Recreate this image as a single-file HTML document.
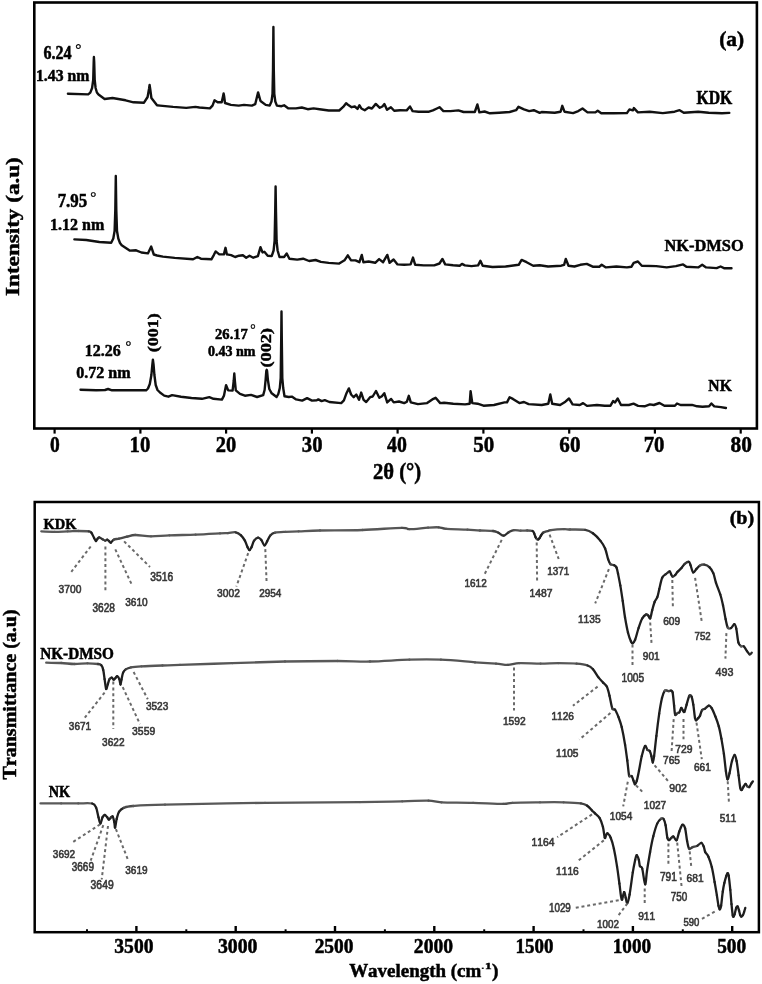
<!DOCTYPE html>
<html><head><meta charset="utf-8"><title>XRD and FTIR</title>
<style>
html,body{margin:0;padding:0;background:#fff;}
body{width:762px;height:984px;overflow:hidden;font-family:"Liberation Serif",serif;}
svg{display:block;filter:blur(0.35px);}
text{font-kerning:none;}
</style></head>
<body>
<svg width="762" height="984" viewBox="0 0 762 984">
<rect width="762" height="984" fill="#fff"/>
<rect x="34.3" y="2.5" width="722.6" height="426" fill="none" stroke="#000" stroke-width="2.6"/>
<rect x="34.7" y="502" width="724.2" height="430.2" fill="none" stroke="#000" stroke-width="2.5"/>
<line x1="54.6" y1="429" x2="54.6" y2="433.6" stroke="#000" stroke-width="2.2"/>
<line x1="140.4" y1="429" x2="140.4" y2="433.6" stroke="#000" stroke-width="2.2"/>
<line x1="226.1" y1="429" x2="226.1" y2="433.6" stroke="#000" stroke-width="2.2"/>
<line x1="311.9" y1="429" x2="311.9" y2="433.6" stroke="#000" stroke-width="2.2"/>
<line x1="397.6" y1="429" x2="397.6" y2="433.6" stroke="#000" stroke-width="2.2"/>
<line x1="483.4" y1="429" x2="483.4" y2="433.6" stroke="#000" stroke-width="2.2"/>
<line x1="569.2" y1="429" x2="569.2" y2="433.6" stroke="#000" stroke-width="2.2"/>
<line x1="654.9" y1="429" x2="654.9" y2="433.6" stroke="#000" stroke-width="2.2"/>
<line x1="740.7" y1="429" x2="740.7" y2="433.6" stroke="#000" stroke-width="2.2"/>
<line x1="136.4" y1="931" x2="136.4" y2="926" stroke="#000" stroke-width="2.4"/>
<line x1="235.7" y1="931" x2="235.7" y2="926" stroke="#000" stroke-width="2.4"/>
<line x1="335.0" y1="931" x2="335.0" y2="926" stroke="#000" stroke-width="2.4"/>
<line x1="434.3" y1="931" x2="434.3" y2="926" stroke="#000" stroke-width="2.4"/>
<line x1="533.6" y1="931" x2="533.6" y2="926" stroke="#000" stroke-width="2.4"/>
<line x1="632.9" y1="931" x2="632.9" y2="926" stroke="#000" stroke-width="2.4"/>
<line x1="732.2" y1="931" x2="732.2" y2="926" stroke="#000" stroke-width="2.4"/>
<line x1="87.0" y1="931" x2="87.0" y2="929.3" stroke="#000" stroke-width="2"/>
<line x1="186.3" y1="931" x2="186.3" y2="929.3" stroke="#000" stroke-width="2"/>
<line x1="285.6" y1="931" x2="285.6" y2="929.3" stroke="#000" stroke-width="2"/>
<line x1="384.9" y1="931" x2="384.9" y2="929.3" stroke="#000" stroke-width="2"/>
<line x1="484.2" y1="931" x2="484.2" y2="929.3" stroke="#000" stroke-width="2"/>
<line x1="583.5" y1="931" x2="583.5" y2="929.3" stroke="#000" stroke-width="2"/>
<line x1="682.8" y1="931" x2="682.8" y2="929.3" stroke="#000" stroke-width="2"/>
<polyline points="67.9,93.7 88.2,94.4 90.3,92.6 92.1,88.0 93.2,80.0 93.7,62.0 93.9,57.0 94.2,62.0 94.7,80.0 95.6,88.0 96.9,92.5 98.5,94.5 104.6,99.0 112.5,98.0 125.6,100.3 133.5,102.3 144.0,102.7 147.6,97.0 149.0,89.0 149.6,85.0 150.2,89.0 151.4,98.0 157.0,105.3 160.0,105.6 173.1,106.9 186.2,107.9 195.4,106.9 199.4,107.5 209.9,108.4 212.5,105.6 214.5,100.3 217.7,102.3 221.7,102.3 223.1,96.0 223.6,93.5 224.1,96.0 225.0,103.0 230.9,104.9 238.7,105.6 244.0,104.9 251.9,105.6 255.2,104.2 258.1,92.4 260.5,101.0 265.7,104.9 269.7,105.6 271.5,101.5 272.5,94.0 273.0,70.0 273.4,27.0 273.8,70.0 274.3,94.0 275.3,101.5 276.9,105.6 281.5,106.2 284.1,105.3 288.1,108.2 295.9,108.4 301.8,107.5 307.7,109.2 313.6,108.4 319.6,109.2 328.7,110.5 339.2,110.5 343.2,106.9 346.1,103.2 347.6,104.5 351.6,107.2 354.8,106.5 357.5,108.9 359.4,105.2 361.4,108.5 364.7,110.2 368.6,107.5 371.9,108.5 375.8,103.9 379.8,107.8 382.4,106.5 384.4,104.1 387.0,109.8 390.9,107.2 394.2,110.7 400.1,110.2 406.7,110.4 410.0,106.5 412.6,111.1 418.5,111.7 429.0,111.7 432.9,110.4 436.9,108.5 439.5,107.2 443.4,111.1 450.5,111.1 458.4,110.4 463.6,112.0 474.8,112.0 477.4,104.5 479.4,112.4 484.6,111.5 489.9,113.3 499.1,112.8 509.6,112.0 516.1,110.2 518.5,106.8 524.0,109.4 529.2,111.1 533.8,110.2 539.7,112.8 541.6,112.0 554.7,112.8 560.6,111.7 562.3,105.8 564.5,111.7 573.1,113.1 578.3,111.1 582.5,108.5 587.5,112.4 595.4,112.4 597.7,110.7 601.3,113.3 613.7,113.3 626.9,113.1 629.5,109.4 632.8,110.4 633.9,108.1 637.9,112.4 649.7,111.7 662.8,113.1 674.6,111.7 679.6,110.2 683.8,112.8 698.2,111.7 708.7,112.8 721.9,113.3 729.3,112.9" fill="none" stroke="#111" stroke-width="2.4" stroke-linejoin="round" stroke-linecap="round"/>
<polyline points="74.4,239.4 86.2,240.0 99.4,242.0 111.2,242.7 113.3,238.5 114.6,231.0 115.3,210.0 115.8,176.0 116.3,210.0 117.0,231.0 118.3,238.5 120.0,243.0 121.7,245.3 129.6,250.6 136.1,250.3 141.4,252.5 147.9,253.4 151.2,246.6 153.8,254.5 157.0,255.5 162.9,256.6 174.7,257.9 193.1,259.3 197.3,257.0 200.9,258.7 211.4,259.3 213.8,255.1 215.6,251.4 219.3,254.4 223.9,254.4 225.5,247.8 226.9,254.4 231.1,255.1 235.1,257.0 239.0,255.7 242.9,255.3 246.2,257.7 249.5,255.7 253.3,257.7 257.9,256.1 260.5,247.2 262.5,252.4 264.4,251.8 267.7,255.7 271.7,256.1 273.6,250.5 274.6,241.0 275.2,212.0 275.6,186.5 276.0,212.0 276.6,241.0 277.6,250.5 279.5,257.0 284.1,257.0 286.7,253.5 289.4,258.7 297.2,259.6 303.1,258.7 309.1,261.0 315.6,260.0 320.9,261.9 328.7,262.9 339.2,263.6 344.5,260.3 347.8,255.3 350.9,260.2 355.5,260.4 359.4,262.2 361.8,254.9 363.4,262.2 368.6,261.5 375.2,262.8 379.1,259.1 383.1,262.2 387.3,254.9 389.6,262.8 393.6,259.5 397.5,264.4 404.1,264.8 410.6,264.4 413.0,257.6 415.2,264.8 423.7,265.4 434.2,265.4 439.5,263.5 442.4,258.9 445.2,264.4 453.1,265.2 459.7,265.7 462.0,263.9 464.9,265.4 471.5,266.1 478.1,265.4 480.4,260.8 482.7,265.7 492.5,267.0 505.6,266.5 518.7,264.8 521.6,259.9 526.6,262.2 533.2,265.7 539.7,265.2 548.1,266.5 561.2,265.7 564.1,264.8 565.8,258.9 568.5,265.7 574.4,266.5 580.3,264.8 586.8,263.9 592.7,266.7 599.3,266.7 601.7,264.8 605.9,267.4 616.4,266.5 626.9,267.4 631.5,266.7 633.7,262.8 637.9,261.5 641.8,265.7 656.2,266.1 666.7,267.4 675.9,266.1 683.1,264.4 686.4,266.7 698.2,267.4 702.2,264.8 706.1,267.4 716.6,268.1 720.6,266.5 724.5,268.3 731.5,268.3" fill="none" stroke="#111" stroke-width="2.4" stroke-linejoin="round" stroke-linecap="round"/>
<polyline points="80.5,389.8 96.2,390.3 105.0,390.0 108.1,389.0 112.0,390.3 129.1,390.3 146.1,390.3 148.0,388.5 149.8,384.0 151.4,375.0 152.3,365.0 152.9,359.6 153.6,365.0 154.4,375.0 155.7,385.0 157.5,390.0 160.0,392.5 164.2,395.6 168.4,396.7 172.1,395.1 181.0,396.7 191.5,398.0 202.0,398.8 209.3,397.2 213.5,398.8 221.9,399.6 224.0,395.6 226.1,385.1 228.2,390.4 232.6,390.6 233.7,381.0 234.3,373.5 234.9,381.0 235.8,390.4 240.0,393.9 244.9,395.7 251.0,394.9 257.1,397.0 263.2,395.1 264.6,390.0 265.6,380.0 266.3,371.0 266.7,369.8 267.1,371.0 267.9,380.0 269.3,389.0 271.7,393.3 276.6,397.0 278.3,394.0 279.8,388.0 280.7,378.0 281.2,340.0 281.5,311.5 281.8,340.0 282.3,378.0 283.2,388.0 284.5,396.3 288.8,397.0 291.8,396.6 296.1,399.4 302.2,400.6 307.1,398.2 312.0,400.6 316.8,400.2 318.3,399.4 321.6,401.1 324.8,400.2 329.4,402.0 341.2,403.1 343.9,400.4 346.5,393.2 348.9,388.4 351.1,394.5 353.7,397.2 356.3,394.5 359.0,399.8 361.2,392.6 363.6,399.8 366.2,402.0 370.1,397.2 372.7,396.5 376.0,391.0 379.3,397.8 381.9,396.2 384.3,393.2 387.2,402.4 391.1,398.9 393.7,402.4 399.0,401.5 404.2,403.1 406.9,401.7 408.8,395.8 410.8,402.4 417.9,404.1 427.1,403.1 432.3,399.4 435.6,397.8 440.2,403.1 444.1,402.8 453.3,403.7 465.1,404.4 469.7,403.7 470.6,391.2 472.3,403.1 477.6,403.7 483.5,405.7 494.0,405.0 504.5,402.4 507.0,402.4 509.6,397.2 512.9,398.9 519.4,403.1 524.0,402.0 528.6,404.1 541.7,405.0 548.3,403.7 550.3,394.5 552.2,403.7 560.1,405.0 565.4,401.7 569.0,398.5 572.6,404.4 579.8,405.0 583.1,403.1 587.0,405.9 596.9,405.0 604.7,405.7 610.5,405.7 613.1,401.1 615.1,402.4 617.7,398.5 621.0,405.0 628.9,405.0 633.5,403.7 638.1,405.9 644.6,406.3 649.9,404.4 653.8,405.0 659.5,403.0 664.4,405.8 674.9,405.8 677.0,403.5 680.5,405.0 692.0,404.9 697.1,406.3 702.5,406.7 709.1,406.2 711.4,403.5 714.3,406.4 720.9,407.1 725.9,408.0" fill="none" stroke="#111" stroke-width="2.4" stroke-linejoin="round" stroke-linecap="round"/>
<path d="M41.3,531.4 C43.5,531.5 50.3,531.8 54.7,531.8" fill="none" stroke="#585858" stroke-width="2.3" stroke-linecap="round"/>
<path d="M54.7,531.8 C59.1,531.8 63.9,531.5 67.8,531.4" fill="none" stroke="#585858" stroke-width="2.3" stroke-linecap="round"/>
<path d="M67.8,531.4 C71.7,531.3 74.8,531.0 78.3,531.0" fill="none" stroke="#575757" stroke-width="2.3" stroke-linecap="round"/>
<path d="M78.3,531.0 C81.8,531.0 86.6,531.1 88.8,531.4" fill="none" stroke="#575757" stroke-width="2.3" stroke-linecap="round"/>
<path d="M88.8,531.4 C91.0,531.7 90.5,531.6 91.4,532.7" fill="none" stroke="#373737" stroke-width="2.3" stroke-linecap="round"/>
<path d="M91.4,532.7 C92.3,533.8 93.3,536.6 94.1,538.0" fill="none" stroke="#1e1e1e" stroke-width="2.3" stroke-linecap="round"/>
<path d="M94.1,538.0 C94.9,539.4 95.4,540.9 96.0,541.0" fill="none" stroke="#1e1e1e" stroke-width="2.3" stroke-linecap="round"/>
<path d="M96.0,541.0 C96.6,541.1 97.2,539.2 97.7,538.6" fill="none" stroke="#1e1e1e" stroke-width="2.3" stroke-linecap="round"/>
<path d="M97.7,538.6 C98.2,538.0 98.5,537.2 99.3,537.3" fill="none" stroke="#262626" stroke-width="2.3" stroke-linecap="round"/>
<path d="M99.3,537.3 C100.1,537.4 101.6,538.8 102.6,539.3" fill="none" stroke="#303030" stroke-width="2.3" stroke-linecap="round"/>
<path d="M102.6,539.3 C103.6,539.8 104.4,540.5 105.2,540.6" fill="none" stroke="#373737" stroke-width="2.3" stroke-linecap="round"/>
<path d="M105.2,540.6 C106.0,540.7 106.6,539.6 107.2,539.7" fill="none" stroke="#3a3a3a" stroke-width="2.3" stroke-linecap="round"/>
<path d="M107.2,539.7 C107.8,539.8 108.5,540.7 109.1,541.2" fill="none" stroke="#272727" stroke-width="2.3" stroke-linecap="round"/>
<path d="M109.1,541.2 C109.7,541.7 110.1,542.9 110.9,542.6" fill="none" stroke="#282828" stroke-width="2.3" stroke-linecap="round"/>
<path d="M110.9,542.6 C111.7,542.4 112.4,540.4 113.7,539.7" fill="none" stroke="#1e1e1e" stroke-width="2.3" stroke-linecap="round"/>
<path d="M113.7,539.7 C115.0,539.0 116.8,539.1 119.0,538.6" fill="none" stroke="#4a4a4a" stroke-width="2.3" stroke-linecap="round"/>
<path d="M119.0,538.6 C121.2,538.1 124.2,537.3 126.9,536.7" fill="none" stroke="#484848" stroke-width="2.3" stroke-linecap="round"/>
<path d="M126.9,536.7 C129.6,536.1 131.2,535.1 135.2,535.0" fill="none" stroke="#4b4b4b" stroke-width="2.3" stroke-linecap="round"/>
<path d="M135.2,535.0 C139.2,534.9 145.3,536.2 151.0,536.3" fill="none" stroke="#545454" stroke-width="2.3" stroke-linecap="round"/>
<path d="M151.0,536.3 C156.7,536.3 162.0,535.6 169.4,535.3" fill="none" stroke="#565656" stroke-width="2.3" stroke-linecap="round"/>
<path d="M169.4,535.3 C176.8,535.0 187.2,535.0 195.6,534.7" fill="none" stroke="#585858" stroke-width="2.3" stroke-linecap="round"/>
<path d="M195.6,534.7 C204.0,534.4 214.6,533.7 220.0,533.4" fill="none" stroke="#565656" stroke-width="2.3" stroke-linecap="round"/>
<path d="M220.0,533.4 C225.4,533.1 225.3,533.3 227.9,533.1" fill="none" stroke="#575757" stroke-width="2.3" stroke-linecap="round"/>
<path d="M227.9,533.1 C230.5,532.9 233.5,531.9 235.7,532.3" fill="none" stroke="#525252" stroke-width="2.3" stroke-linecap="round"/>
<path d="M235.7,532.3 C237.9,532.7 239.5,533.9 241.0,535.3" fill="none" stroke="#333333" stroke-width="2.3" stroke-linecap="round"/>
<path d="M241.0,535.3 C242.5,536.7 243.8,538.6 244.9,540.6" fill="none" stroke="#1e1e1e" stroke-width="2.3" stroke-linecap="round"/>
<path d="M244.9,540.6 C246.0,542.6 246.8,545.6 247.6,547.2" fill="none" stroke="#1e1e1e" stroke-width="2.3" stroke-linecap="round"/>
<path d="M247.6,547.2 C248.4,548.8 248.8,550.2 249.5,550.2" fill="none" stroke="#1e1e1e" stroke-width="2.3" stroke-linecap="round"/>
<path d="M249.5,550.2 C250.2,550.2 250.7,548.8 251.5,547.2" fill="none" stroke="#1e1e1e" stroke-width="2.3" stroke-linecap="round"/>
<path d="M251.5,547.2 C252.3,545.6 253.0,542.2 254.1,540.6" fill="none" stroke="#1e1e1e" stroke-width="2.3" stroke-linecap="round"/>
<path d="M254.1,540.6 C255.2,539.0 256.9,537.7 258.1,537.6" fill="none" stroke="#292929" stroke-width="2.3" stroke-linecap="round"/>
<path d="M258.1,537.6 C259.3,537.5 260.2,538.6 261.3,539.9" fill="none" stroke="#2a2a2a" stroke-width="2.3" stroke-linecap="round"/>
<path d="M261.3,539.9 C262.4,541.2 263.4,545.2 264.4,545.4" fill="none" stroke="#1e1e1e" stroke-width="2.3" stroke-linecap="round"/>
<path d="M264.4,545.4 C265.4,545.6 266.2,542.9 267.2,541.2" fill="none" stroke="#1e1e1e" stroke-width="2.3" stroke-linecap="round"/>
<path d="M267.2,541.2 C268.2,539.5 269.2,536.7 270.5,535.3" fill="none" stroke="#1e1e1e" stroke-width="2.3" stroke-linecap="round"/>
<path d="M270.5,535.3 C271.8,533.9 272.6,533.3 275.1,532.7" fill="none" stroke="#333333" stroke-width="2.3" stroke-linecap="round"/>
<path d="M275.1,532.7 C277.6,532.1 281.7,532.0 285.6,531.8" fill="none" stroke="#535353" stroke-width="2.3" stroke-linecap="round"/>
<path d="M285.6,531.8 C289.5,531.6 293.0,531.6 298.7,531.4" fill="none" stroke="#585858" stroke-width="2.3" stroke-linecap="round"/>
<path d="M298.7,531.4 C304.4,531.2 309.4,530.7 320.0,530.5" fill="none" stroke="#575757" stroke-width="2.3" stroke-linecap="round"/>
<path d="M320.0,530.5 C330.6,530.3 348.9,530.5 362.5,530.0" fill="none" stroke="#595959" stroke-width="2.3" stroke-linecap="round"/>
<path d="M362.5,530.0 C376.1,529.5 394.0,527.9 401.9,527.8" fill="none" stroke="#565656" stroke-width="2.3" stroke-linecap="round"/>
<path d="M401.9,527.8 C409.8,527.7 405.3,529.2 409.7,529.2" fill="none" stroke="#4c4c4c" stroke-width="2.3" stroke-linecap="round"/>
<path d="M409.7,529.2 C414.1,529.2 423.3,527.9 428.1,527.6" fill="none" stroke="#535353" stroke-width="2.3" stroke-linecap="round"/>
<path d="M428.1,527.6 C432.9,527.3 435.5,527.1 438.6,527.3" fill="none" stroke="#585858" stroke-width="2.3" stroke-linecap="round"/>
<path d="M438.6,527.3 C441.7,527.5 441.7,528.5 446.5,528.9" fill="none" stroke="#4b4b4b" stroke-width="2.3" stroke-linecap="round"/>
<path d="M446.5,528.9 C451.3,529.3 461.9,529.4 467.5,529.7" fill="none" stroke="#575757" stroke-width="2.3" stroke-linecap="round"/>
<path d="M467.5,529.7 C473.1,530.0 475.7,530.3 480.0,530.5" fill="none" stroke="#555555" stroke-width="2.3" stroke-linecap="round"/>
<path d="M480.0,530.5 C484.3,530.7 490.0,530.6 493.1,531.0" fill="none" stroke="#575757" stroke-width="2.3" stroke-linecap="round"/>
<path d="M493.1,531.0 C496.2,531.4 496.6,531.9 498.4,532.7" fill="none" stroke="#424242" stroke-width="2.3" stroke-linecap="round"/>
<path d="M498.4,532.7 C500.1,533.5 501.9,535.8 503.6,535.7" fill="none" stroke="#323232" stroke-width="2.3" stroke-linecap="round"/>
<path d="M503.6,535.7 C505.4,535.6 507.1,533.0 508.9,532.1" fill="none" stroke="#2c2c2c" stroke-width="2.3" stroke-linecap="round"/>
<path d="M508.9,532.1 C510.6,531.2 512.1,530.3 514.1,530.1" fill="none" stroke="#3e3e3e" stroke-width="2.3" stroke-linecap="round"/>
<path d="M514.1,530.1 C516.1,529.9 518.5,530.6 520.7,530.7" fill="none" stroke="#535353" stroke-width="2.3" stroke-linecap="round"/>
<path d="M520.7,530.7 C522.9,530.8 525.2,530.5 527.2,530.5" fill="none" stroke="#585858" stroke-width="2.3" stroke-linecap="round"/>
<path d="M527.2,530.5 C529.2,530.5 531.3,530.5 532.5,531.0" fill="none" stroke="#535353" stroke-width="2.3" stroke-linecap="round"/>
<path d="M532.5,531.0 C533.7,531.5 533.7,532.5 534.2,533.5" fill="none" stroke="#1e1e1e" stroke-width="2.3" stroke-linecap="round"/>
<path d="M534.2,533.5 C534.7,534.5 535.1,536.2 535.6,537.2" fill="none" stroke="#1e1e1e" stroke-width="2.3" stroke-linecap="round"/>
<path d="M535.6,537.2 C536.1,538.2 536.5,538.8 537.0,539.2" fill="none" stroke="#1e1e1e" stroke-width="2.3" stroke-linecap="round"/>
<path d="M537.0,539.2 C537.5,539.6 537.9,539.6 538.3,539.4" fill="none" stroke="#4e4e4e" stroke-width="2.3" stroke-linecap="round"/>
<path d="M538.3,539.4 C538.7,539.2 539.1,538.6 539.6,538.0" fill="none" stroke="#1e1e1e" stroke-width="2.3" stroke-linecap="round"/>
<path d="M539.6,538.0 C540.1,537.4 540.4,536.4 541.0,535.5" fill="none" stroke="#1e1e1e" stroke-width="2.3" stroke-linecap="round"/>
<path d="M541.0,535.5 C541.6,534.6 542.5,533.4 543.0,532.8" fill="none" stroke="#1e1e1e" stroke-width="2.3" stroke-linecap="round"/>
<path d="M543.0,532.8 C543.5,532.2 543.4,532.4 544.3,532.1" fill="none" stroke="#343434" stroke-width="2.3" stroke-linecap="round"/>
<path d="M544.3,532.1 C545.2,531.8 547.1,531.3 548.2,531.0" fill="none" stroke="#454545" stroke-width="2.3" stroke-linecap="round"/>
<path d="M548.2,531.0 C549.3,530.7 548.3,530.4 550.9,530.1" fill="none" stroke="#414141" stroke-width="2.3" stroke-linecap="round"/>
<path d="M550.9,530.1 C553.5,529.8 560.8,529.3 564.0,529.2" fill="none" stroke="#555555" stroke-width="2.3" stroke-linecap="round"/>
<path d="M564.0,529.2 C567.2,529.1 566.5,529.4 570.0,529.5" fill="none" stroke="#565656" stroke-width="2.3" stroke-linecap="round"/>
<path d="M570.0,529.5 C573.5,529.6 581.4,529.3 585.2,529.9" fill="none" stroke="#585858" stroke-width="2.3" stroke-linecap="round"/>
<path d="M585.2,529.9 C589.0,530.5 590.4,531.5 592.9,533.3" fill="none" stroke="#3a3a3a" stroke-width="2.3" stroke-linecap="round"/>
<path d="M592.9,533.3 C595.4,535.1 598.5,538.4 600.5,540.9" fill="none" stroke="#1e1e1e" stroke-width="2.3" stroke-linecap="round"/>
<path d="M600.5,540.9 C602.5,543.4 603.8,545.5 605.1,548.5" fill="none" stroke="#1e1e1e" stroke-width="2.3" stroke-linecap="round"/>
<path d="M605.1,548.5 C606.4,551.5 607.2,556.6 608.1,559.2" fill="none" stroke="#1e1e1e" stroke-width="2.3" stroke-linecap="round"/>
<path d="M608.1,559.2 C609.0,561.8 609.4,563.1 610.4,564.1" fill="none" stroke="#1e1e1e" stroke-width="2.3" stroke-linecap="round"/>
<path d="M610.4,564.1 C611.4,565.1 613.2,564.7 614.2,565.3" fill="none" stroke="#434343" stroke-width="2.3" stroke-linecap="round"/>
<path d="M614.2,565.3 C615.2,565.9 615.9,566.1 616.5,567.5" fill="none" stroke="#202020" stroke-width="2.3" stroke-linecap="round"/>
<path d="M616.5,567.5 C617.1,568.9 617.4,570.6 618.0,573.6" fill="none" stroke="#1e1e1e" stroke-width="2.3" stroke-linecap="round"/>
<path d="M618.0,573.6 C618.6,576.6 619.5,580.9 620.3,585.4" fill="none" stroke="#1e1e1e" stroke-width="2.3" stroke-linecap="round"/>
<path d="M620.3,585.4 C621.1,589.9 621.9,595.5 622.7,600.8" fill="none" stroke="#1e1e1e" stroke-width="2.3" stroke-linecap="round"/>
<path d="M622.7,600.8 C623.5,606.1 624.1,612.0 625.0,617.3" fill="none" stroke="#1e1e1e" stroke-width="2.3" stroke-linecap="round"/>
<path d="M625.0,617.3 C625.9,622.6 627.0,628.7 628.0,632.7" fill="none" stroke="#1e1e1e" stroke-width="2.3" stroke-linecap="round"/>
<path d="M628.0,632.7 C629.0,636.7 630.2,639.7 631.0,641.5" fill="none" stroke="#1e1e1e" stroke-width="2.3" stroke-linecap="round"/>
<path d="M631.0,641.5 C631.8,643.3 632.0,643.6 632.7,643.3" fill="none" stroke="#1e1e1e" stroke-width="2.3" stroke-linecap="round"/>
<path d="M632.7,643.3 C633.4,643.0 634.1,642.3 635.1,639.8" fill="none" stroke="#1e1e1e" stroke-width="2.3" stroke-linecap="round"/>
<path d="M635.1,639.8 C636.1,637.2 637.4,631.5 638.6,628.0" fill="none" stroke="#1e1e1e" stroke-width="2.3" stroke-linecap="round"/>
<path d="M638.6,628.0 C639.8,624.5 640.9,620.8 642.2,618.5" fill="none" stroke="#1e1e1e" stroke-width="2.3" stroke-linecap="round"/>
<path d="M642.2,618.5 C643.5,616.2 645.3,614.9 646.3,614.4" fill="none" stroke="#1e1e1e" stroke-width="2.3" stroke-linecap="round"/>
<path d="M646.3,614.4 C647.3,613.9 647.6,615.0 648.3,615.6" fill="none" stroke="#313131" stroke-width="2.3" stroke-linecap="round"/>
<path d="M648.3,615.6 C648.9,616.2 649.6,619.2 650.2,618.3" fill="none" stroke="#1e1e1e" stroke-width="2.3" stroke-linecap="round"/>
<path d="M650.2,618.3 C650.9,617.4 651.5,612.9 652.2,610.2" fill="none" stroke="#1e1e1e" stroke-width="2.3" stroke-linecap="round"/>
<path d="M652.2,610.2 C652.9,607.5 653.8,604.2 654.6,602.0" fill="none" stroke="#1e1e1e" stroke-width="2.3" stroke-linecap="round"/>
<path d="M654.6,602.0 C655.5,599.8 656.5,599.4 657.3,597.2" fill="none" stroke="#1e1e1e" stroke-width="2.3" stroke-linecap="round"/>
<path d="M657.3,597.2 C658.1,595.0 658.5,592.2 659.3,589.0" fill="none" stroke="#1e1e1e" stroke-width="2.3" stroke-linecap="round"/>
<path d="M659.3,589.0 C660.1,585.8 661.1,580.3 662.2,577.8" fill="none" stroke="#1e1e1e" stroke-width="2.3" stroke-linecap="round"/>
<path d="M662.2,577.8 C663.3,575.3 664.6,575.2 665.8,574.2" fill="none" stroke="#1e1e1e" stroke-width="2.3" stroke-linecap="round"/>
<path d="M665.8,574.2 C667.0,573.2 668.7,571.5 669.6,571.5" fill="none" stroke="#2b2b2b" stroke-width="2.3" stroke-linecap="round"/>
<path d="M669.6,571.5 C670.5,571.5 670.6,573.4 671.1,574.2" fill="none" stroke="#1e1e1e" stroke-width="2.3" stroke-linecap="round"/>
<path d="M671.1,574.2 C671.6,575.1 671.9,576.5 672.6,576.6" fill="none" stroke="#1e1e1e" stroke-width="2.3" stroke-linecap="round"/>
<path d="M672.6,576.6 C673.3,576.7 674.4,575.8 675.2,575.0" fill="none" stroke="#303030" stroke-width="2.3" stroke-linecap="round"/>
<path d="M675.2,575.0 C676.0,574.2 676.5,573.0 677.6,571.8" fill="none" stroke="#1e1e1e" stroke-width="2.3" stroke-linecap="round"/>
<path d="M677.6,571.8 C678.7,570.6 680.5,569.0 681.7,567.7" fill="none" stroke="#1e1e1e" stroke-width="2.3" stroke-linecap="round"/>
<path d="M681.7,567.7 C682.9,566.4 683.5,564.9 684.7,563.9" fill="none" stroke="#1e1e1e" stroke-width="2.3" stroke-linecap="round"/>
<path d="M684.7,563.9 C685.9,562.9 687.8,561.5 688.8,561.8" fill="none" stroke="#363636" stroke-width="2.3" stroke-linecap="round"/>
<path d="M688.8,561.8 C689.8,562.0 689.9,563.6 690.6,565.4" fill="none" stroke="#1e1e1e" stroke-width="2.3" stroke-linecap="round"/>
<path d="M690.6,565.4 C691.3,567.2 692.2,571.8 693.2,572.4" fill="none" stroke="#1e1e1e" stroke-width="2.3" stroke-linecap="round"/>
<path d="M693.2,572.4 C694.2,573.0 695.4,570.1 696.5,568.9" fill="none" stroke="#1e1e1e" stroke-width="2.3" stroke-linecap="round"/>
<path d="M696.5,568.9 C697.6,567.7 698.7,566.1 700.0,565.4" fill="none" stroke="#1e1e1e" stroke-width="2.3" stroke-linecap="round"/>
<path d="M700.0,565.4 C701.3,564.7 702.7,564.3 704.3,564.6" fill="none" stroke="#4c4c4c" stroke-width="2.3" stroke-linecap="round"/>
<path d="M704.3,564.6 C705.9,564.9 708.1,565.9 709.6,567.3" fill="none" stroke="#363636" stroke-width="2.3" stroke-linecap="round"/>
<path d="M709.6,567.3 C711.1,568.7 712.2,570.5 713.3,573.1" fill="none" stroke="#1e1e1e" stroke-width="2.3" stroke-linecap="round"/>
<path d="M713.3,573.1 C714.4,575.7 714.8,579.2 716.0,582.8" fill="none" stroke="#1e1e1e" stroke-width="2.3" stroke-linecap="round"/>
<path d="M716.0,582.8 C717.2,586.4 719.1,590.8 720.3,594.5" fill="none" stroke="#1e1e1e" stroke-width="2.3" stroke-linecap="round"/>
<path d="M720.3,594.5 C721.5,598.2 722.1,601.1 723.0,605.2" fill="none" stroke="#1e1e1e" stroke-width="2.3" stroke-linecap="round"/>
<path d="M723.0,605.2 C723.9,609.3 724.8,615.4 725.6,619.1" fill="none" stroke="#1e1e1e" stroke-width="2.3" stroke-linecap="round"/>
<path d="M725.6,619.1 C726.4,622.8 726.9,626.1 727.8,627.6" fill="none" stroke="#1e1e1e" stroke-width="2.3" stroke-linecap="round"/>
<path d="M727.8,627.6 C728.7,629.1 729.9,628.7 731.0,628.1" fill="none" stroke="#4e4e4e" stroke-width="2.3" stroke-linecap="round"/>
<path d="M731.0,628.1 C732.1,627.5 733.5,624.1 734.4,624.2" fill="none" stroke="#1e1e1e" stroke-width="2.3" stroke-linecap="round"/>
<path d="M734.4,624.2 C735.3,624.3 735.6,625.7 736.3,628.7" fill="none" stroke="#1e1e1e" stroke-width="2.3" stroke-linecap="round"/>
<path d="M736.3,628.7 C737.0,631.8 737.6,639.6 738.4,642.5" fill="none" stroke="#1e1e1e" stroke-width="2.3" stroke-linecap="round"/>
<path d="M738.4,642.5 C739.2,645.4 740.2,645.7 741.1,646.3" fill="none" stroke="#1e1e1e" stroke-width="2.3" stroke-linecap="round"/>
<path d="M741.1,646.3 C742.0,646.9 742.8,645.5 743.8,646.3" fill="none" stroke="#5a5a5a" stroke-width="2.3" stroke-linecap="round"/>
<path d="M743.8,646.3 C744.8,647.1 746.0,649.8 747.0,651.1" fill="none" stroke="#1e1e1e" stroke-width="2.3" stroke-linecap="round"/>
<path d="M747.0,651.1 C748.0,652.4 748.8,654.0 749.6,654.3" fill="none" stroke="#1e1e1e" stroke-width="2.3" stroke-linecap="round"/>
<path d="M749.6,654.3 C750.4,654.6 751.4,653.0 751.8,652.7" fill="none" stroke="#2a2a2a" stroke-width="2.3" stroke-linecap="round"/>
<path d="M46.2,662.7 C48.7,662.8 56.5,662.8 61.2,663.0" fill="none" stroke="#585858" stroke-width="2.3" stroke-linecap="round"/>
<path d="M61.2,663.0 C65.9,663.2 70.0,664.0 74.4,664.0" fill="none" stroke="#545454" stroke-width="2.3" stroke-linecap="round"/>
<path d="M74.4,664.0 C78.8,664.0 83.6,663.3 87.5,663.3" fill="none" stroke="#565656" stroke-width="2.3" stroke-linecap="round"/>
<path d="M87.5,663.3 C91.4,663.3 95.7,663.7 98.0,664.0" fill="none" stroke="#555555" stroke-width="2.3" stroke-linecap="round"/>
<path d="M98.0,664.0 C100.3,664.3 100.4,664.3 101.3,665.3" fill="none" stroke="#3d3d3d" stroke-width="2.3" stroke-linecap="round"/>
<path d="M101.3,665.3 C102.2,666.3 102.7,667.6 103.2,669.9" fill="none" stroke="#1e1e1e" stroke-width="2.3" stroke-linecap="round"/>
<path d="M103.2,669.9 C103.8,672.2 104.1,675.9 104.6,679.1" fill="none" stroke="#1e1e1e" stroke-width="2.3" stroke-linecap="round"/>
<path d="M104.6,679.1 C105.1,682.3 105.6,688.0 106.1,688.9" fill="none" stroke="#1e1e1e" stroke-width="2.3" stroke-linecap="round"/>
<path d="M106.1,688.9 C106.6,689.8 107.2,685.9 107.8,684.3" fill="none" stroke="#1e1e1e" stroke-width="2.3" stroke-linecap="round"/>
<path d="M107.8,684.3 C108.4,682.7 108.8,680.2 109.5,679.1" fill="none" stroke="#1e1e1e" stroke-width="2.3" stroke-linecap="round"/>
<path d="M109.5,679.1 C110.2,678.0 111.1,677.6 111.8,677.7" fill="none" stroke="#303030" stroke-width="2.3" stroke-linecap="round"/>
<path d="M111.8,677.7 C112.5,677.8 113.0,679.7 113.7,679.7" fill="none" stroke="#1e1e1e" stroke-width="2.3" stroke-linecap="round"/>
<path d="M113.7,679.7 C114.4,679.7 115.1,678.3 115.7,677.7" fill="none" stroke="#1e1e1e" stroke-width="2.3" stroke-linecap="round"/>
<path d="M115.7,677.7 C116.3,677.1 116.7,675.9 117.3,676.2" fill="none" stroke="#202020" stroke-width="2.3" stroke-linecap="round"/>
<path d="M117.3,676.2 C117.9,676.5 118.9,678.0 119.4,679.4" fill="none" stroke="#1e1e1e" stroke-width="2.3" stroke-linecap="round"/>
<path d="M119.4,679.4 C119.9,680.8 120.2,684.6 120.5,684.6" fill="none" stroke="#1e1e1e" stroke-width="2.3" stroke-linecap="round"/>
<path d="M120.5,684.6 C120.8,684.6 121.1,681.4 121.5,679.4" fill="none" stroke="#1e1e1e" stroke-width="2.3" stroke-linecap="round"/>
<path d="M121.5,679.4 C121.9,677.4 122.4,674.3 123.1,672.6" fill="none" stroke="#1e1e1e" stroke-width="2.3" stroke-linecap="round"/>
<path d="M123.1,672.6 C123.8,670.9 124.4,670.3 125.7,669.4" fill="none" stroke="#1e1e1e" stroke-width="2.3" stroke-linecap="round"/>
<path d="M125.7,669.4 C127.0,668.5 128.4,667.8 131.0,667.3" fill="none" stroke="#3d3d3d" stroke-width="2.3" stroke-linecap="round"/>
<path d="M131.0,667.3 C133.6,666.8 136.2,666.6 141.5,666.3" fill="none" stroke="#535353" stroke-width="2.3" stroke-linecap="round"/>
<path d="M141.5,666.3 C146.8,666.0 156.1,665.7 162.5,665.5" fill="none" stroke="#575757" stroke-width="2.3" stroke-linecap="round"/>
<path d="M162.5,665.5 C168.9,665.3 168.3,665.3 180.0,664.9" fill="none" stroke="#575757" stroke-width="2.3" stroke-linecap="round"/>
<path d="M180.0,664.9 C191.7,664.5 215.0,663.7 232.5,663.1" fill="none" stroke="#575757" stroke-width="2.3" stroke-linecap="round"/>
<path d="M232.5,663.1 C250.0,662.5 267.5,661.9 285.0,661.5" fill="none" stroke="#585858" stroke-width="2.3" stroke-linecap="round"/>
<path d="M285.0,661.5 C302.5,661.1 323.3,661.0 337.5,661.0" fill="none" stroke="#595959" stroke-width="2.3" stroke-linecap="round"/>
<path d="M337.5,661.0 C351.7,661.0 358.0,661.7 370.0,661.5" fill="none" stroke="#595959" stroke-width="2.3" stroke-linecap="round"/>
<path d="M370.0,661.5 C382.0,661.3 397.6,660.0 409.4,659.7" fill="none" stroke="#575757" stroke-width="2.3" stroke-linecap="round"/>
<path d="M409.4,659.7 C421.2,659.4 430.0,659.3 440.9,659.7" fill="none" stroke="#5a5a5a" stroke-width="2.3" stroke-linecap="round"/>
<path d="M440.9,659.7 C451.8,660.1 465.8,661.6 475.0,662.3" fill="none" stroke="#545454" stroke-width="2.3" stroke-linecap="round"/>
<path d="M475.0,662.3 C484.2,662.9 490.5,663.2 496.0,663.6" fill="none" stroke="#555555" stroke-width="2.3" stroke-linecap="round"/>
<path d="M496.0,663.6 C501.5,664.0 503.9,665.0 507.8,664.9" fill="none" stroke="#525252" stroke-width="2.3" stroke-linecap="round"/>
<path d="M507.8,664.9 C511.7,664.8 514.1,663.3 519.6,663.1" fill="none" stroke="#4e4e4e" stroke-width="2.3" stroke-linecap="round"/>
<path d="M519.6,663.1 C525.1,662.9 534.2,663.6 540.6,663.6" fill="none" stroke="#585858" stroke-width="2.3" stroke-linecap="round"/>
<path d="M540.6,663.6 C547.0,663.6 552.3,663.2 558.3,663.2" fill="none" stroke="#585858" stroke-width="2.3" stroke-linecap="round"/>
<path d="M558.3,663.2 C564.3,663.2 571.7,663.3 576.6,663.7" fill="none" stroke="#585858" stroke-width="2.3" stroke-linecap="round"/>
<path d="M576.6,663.7 C581.5,664.1 584.9,664.6 587.6,665.5" fill="none" stroke="#4e4e4e" stroke-width="2.3" stroke-linecap="round"/>
<path d="M587.6,665.5 C590.3,666.4 591.2,667.2 593.0,669.2" fill="none" stroke="#2c2c2c" stroke-width="2.3" stroke-linecap="round"/>
<path d="M593.0,669.2 C594.8,671.2 596.8,675.2 598.5,677.4" fill="none" stroke="#1e1e1e" stroke-width="2.3" stroke-linecap="round"/>
<path d="M598.5,677.4 C600.2,679.6 601.7,681.1 603.1,682.6" fill="none" stroke="#1e1e1e" stroke-width="2.3" stroke-linecap="round"/>
<path d="M603.1,682.6 C604.5,684.1 605.7,684.4 606.8,686.6" fill="none" stroke="#1e1e1e" stroke-width="2.3" stroke-linecap="round"/>
<path d="M606.8,686.6 C607.9,688.8 608.6,692.1 609.5,695.7" fill="none" stroke="#1e1e1e" stroke-width="2.3" stroke-linecap="round"/>
<path d="M609.5,695.7 C610.4,699.4 611.4,706.2 612.3,708.5" fill="none" stroke="#1e1e1e" stroke-width="2.3" stroke-linecap="round"/>
<path d="M612.3,708.5 C613.2,710.8 614.0,708.2 615.0,709.6" fill="none" stroke="#3c3c3c" stroke-width="2.3" stroke-linecap="round"/>
<path d="M615.0,709.6 C616.0,711.0 617.3,714.0 618.4,716.9" fill="none" stroke="#1e1e1e" stroke-width="2.3" stroke-linecap="round"/>
<path d="M618.4,716.9 C619.5,719.8 620.6,722.3 621.7,727.0" fill="none" stroke="#1e1e1e" stroke-width="2.3" stroke-linecap="round"/>
<path d="M621.7,727.0 C622.8,731.7 624.2,739.3 625.1,744.9" fill="none" stroke="#1e1e1e" stroke-width="2.3" stroke-linecap="round"/>
<path d="M625.1,744.9 C626.0,750.5 626.6,755.5 627.3,760.5" fill="none" stroke="#1e1e1e" stroke-width="2.3" stroke-linecap="round"/>
<path d="M627.3,760.5 C627.9,765.5 628.5,772.5 629.0,775.1" fill="none" stroke="#1e1e1e" stroke-width="2.3" stroke-linecap="round"/>
<path d="M629.0,775.1 C629.5,777.7 629.6,775.8 630.1,776.0" fill="none" stroke="#262626" stroke-width="2.3" stroke-linecap="round"/>
<path d="M630.1,776.0 C630.6,776.2 631.2,775.4 631.8,776.2" fill="none" stroke="#515151" stroke-width="2.3" stroke-linecap="round"/>
<path d="M631.8,776.2 C632.4,777.0 633.0,779.4 633.5,780.7" fill="none" stroke="#1e1e1e" stroke-width="2.3" stroke-linecap="round"/>
<path d="M633.5,780.7 C634.0,782.1 634.4,784.3 634.9,784.3" fill="none" stroke="#1e1e1e" stroke-width="2.3" stroke-linecap="round"/>
<path d="M634.9,784.3 C635.4,784.3 636.1,783.0 636.8,780.7" fill="none" stroke="#1e1e1e" stroke-width="2.3" stroke-linecap="round"/>
<path d="M636.8,780.7 C637.5,778.4 638.2,774.7 639.0,770.6" fill="none" stroke="#1e1e1e" stroke-width="2.3" stroke-linecap="round"/>
<path d="M639.0,770.6 C639.8,766.5 640.8,760.2 641.8,756.1" fill="none" stroke="#1e1e1e" stroke-width="2.3" stroke-linecap="round"/>
<path d="M641.8,756.1 C642.8,752.0 644.1,747.0 645.0,746.0" fill="none" stroke="#1e1e1e" stroke-width="2.3" stroke-linecap="round"/>
<path d="M645.0,746.0 C645.9,745.0 646.6,749.1 647.4,749.9" fill="none" stroke="#1e1e1e" stroke-width="2.3" stroke-linecap="round"/>
<path d="M647.4,749.9 C648.2,750.7 649.0,750.0 649.7,751.0" fill="none" stroke="#383838" stroke-width="2.3" stroke-linecap="round"/>
<path d="M649.7,751.0 C650.4,752.0 650.9,754.2 651.4,756.1" fill="none" stroke="#1e1e1e" stroke-width="2.3" stroke-linecap="round"/>
<path d="M651.4,756.1 C651.9,758.0 652.3,762.6 652.8,762.6" fill="none" stroke="#1e1e1e" stroke-width="2.3" stroke-linecap="round"/>
<path d="M652.8,762.6 C653.2,762.6 653.5,760.6 654.1,756.1" fill="none" stroke="#1e1e1e" stroke-width="2.3" stroke-linecap="round"/>
<path d="M654.1,756.1 C654.7,751.6 655.5,743.0 656.4,735.9" fill="none" stroke="#1e1e1e" stroke-width="2.3" stroke-linecap="round"/>
<path d="M656.4,735.9 C657.2,728.8 658.3,719.9 659.2,713.6" fill="none" stroke="#1e1e1e" stroke-width="2.3" stroke-linecap="round"/>
<path d="M659.2,713.6 C660.1,707.3 661.1,701.7 662.0,697.9" fill="none" stroke="#1e1e1e" stroke-width="2.3" stroke-linecap="round"/>
<path d="M662.0,697.9 C662.9,694.1 664.0,691.8 664.8,690.6" fill="none" stroke="#1e1e1e" stroke-width="2.3" stroke-linecap="round"/>
<path d="M664.8,690.6 C665.6,689.4 666.4,690.5 667.0,690.6" fill="none" stroke="#5a5a5a" stroke-width="2.3" stroke-linecap="round"/>
<path d="M667.0,690.6 C667.6,690.7 668.1,691.2 668.7,691.2" fill="none" stroke="#404040" stroke-width="2.3" stroke-linecap="round"/>
<path d="M668.7,691.2 C669.4,691.2 670.2,690.4 670.9,690.6" fill="none" stroke="#464646" stroke-width="2.3" stroke-linecap="round"/>
<path d="M670.9,690.6 C671.5,690.8 672.1,689.8 672.6,692.3" fill="none" stroke="#1e1e1e" stroke-width="2.3" stroke-linecap="round"/>
<path d="M672.6,692.3 C673.1,694.8 673.7,702.0 674.1,705.7" fill="none" stroke="#1e1e1e" stroke-width="2.3" stroke-linecap="round"/>
<path d="M674.1,705.7 C674.5,709.4 674.6,713.5 675.2,714.7" fill="none" stroke="#1e1e1e" stroke-width="2.3" stroke-linecap="round"/>
<path d="M675.2,714.7 C675.8,715.9 676.9,713.4 677.6,713.0" fill="none" stroke="#2b2b2b" stroke-width="2.3" stroke-linecap="round"/>
<path d="M677.6,713.0 C678.3,712.6 678.7,713.2 679.3,712.4" fill="none" stroke="#404040" stroke-width="2.3" stroke-linecap="round"/>
<path d="M679.3,712.4 C679.9,711.6 680.6,708.4 681.2,708.0" fill="none" stroke="#1e1e1e" stroke-width="2.3" stroke-linecap="round"/>
<path d="M681.2,708.0 C681.8,707.6 682.2,709.6 682.7,710.2" fill="none" stroke="#1e1e1e" stroke-width="2.3" stroke-linecap="round"/>
<path d="M682.7,710.2 C683.2,710.9 683.8,712.8 684.4,711.9" fill="none" stroke="#1e1e1e" stroke-width="2.3" stroke-linecap="round"/>
<path d="M684.4,711.9 C685.0,711.0 685.8,707.3 686.6,704.6" fill="none" stroke="#1e1e1e" stroke-width="2.3" stroke-linecap="round"/>
<path d="M686.6,704.6 C687.4,701.9 688.6,697.0 689.4,695.7" fill="none" stroke="#1e1e1e" stroke-width="2.3" stroke-linecap="round"/>
<path d="M689.4,695.7 C690.2,694.4 691.0,695.3 691.6,696.8" fill="none" stroke="#373737" stroke-width="2.3" stroke-linecap="round"/>
<path d="M691.6,696.8 C692.2,698.3 692.7,701.1 693.3,704.6" fill="none" stroke="#1e1e1e" stroke-width="2.3" stroke-linecap="round"/>
<path d="M693.3,704.6 C693.9,708.1 694.5,715.4 695.0,718.0" fill="none" stroke="#1e1e1e" stroke-width="2.3" stroke-linecap="round"/>
<path d="M695.0,718.0 C695.5,720.6 695.6,720.3 696.1,720.3" fill="none" stroke="#1e1e1e" stroke-width="2.3" stroke-linecap="round"/>
<path d="M696.1,720.3 C696.6,720.3 697.6,718.8 698.3,718.0" fill="none" stroke="#1e1e1e" stroke-width="2.3" stroke-linecap="round"/>
<path d="M698.3,718.0 C698.9,717.2 699.4,717.1 700.0,715.8" fill="none" stroke="#1e1e1e" stroke-width="2.3" stroke-linecap="round"/>
<path d="M700.0,715.8 C700.6,714.5 701.1,711.4 702.0,710.2" fill="none" stroke="#1e1e1e" stroke-width="2.3" stroke-linecap="round"/>
<path d="M702.0,710.2 C702.9,709.0 704.0,709.4 705.1,708.6" fill="none" stroke="#363636" stroke-width="2.3" stroke-linecap="round"/>
<path d="M705.1,708.6 C706.2,707.8 707.8,705.7 708.9,705.6" fill="none" stroke="#272727" stroke-width="2.3" stroke-linecap="round"/>
<path d="M708.9,705.6 C710.0,705.5 710.6,706.3 711.7,708.1" fill="none" stroke="#222222" stroke-width="2.3" stroke-linecap="round"/>
<path d="M711.7,708.1 C712.8,709.9 714.1,713.2 715.3,716.3" fill="none" stroke="#1e1e1e" stroke-width="2.3" stroke-linecap="round"/>
<path d="M715.3,716.3 C716.5,719.3 717.8,722.7 718.8,726.4" fill="none" stroke="#1e1e1e" stroke-width="2.3" stroke-linecap="round"/>
<path d="M718.8,726.4 C719.8,730.1 720.5,734.0 721.4,738.6" fill="none" stroke="#1e1e1e" stroke-width="2.3" stroke-linecap="round"/>
<path d="M721.4,738.6 C722.2,743.2 723.1,748.5 723.9,753.9" fill="none" stroke="#1e1e1e" stroke-width="2.3" stroke-linecap="round"/>
<path d="M723.9,753.9 C724.6,759.3 725.3,767.0 725.9,771.2" fill="none" stroke="#1e1e1e" stroke-width="2.3" stroke-linecap="round"/>
<path d="M725.9,771.2 C726.5,775.4 726.9,779.0 727.5,779.3" fill="none" stroke="#1e1e1e" stroke-width="2.3" stroke-linecap="round"/>
<path d="M727.5,779.3 C728.1,779.6 728.8,776.2 729.5,773.2" fill="none" stroke="#1e1e1e" stroke-width="2.3" stroke-linecap="round"/>
<path d="M729.5,773.2 C730.2,770.2 731.1,764.0 732.0,761.0" fill="none" stroke="#1e1e1e" stroke-width="2.3" stroke-linecap="round"/>
<path d="M732.0,761.0 C732.9,758.0 733.8,754.9 734.6,754.9" fill="none" stroke="#1e1e1e" stroke-width="2.3" stroke-linecap="round"/>
<path d="M734.6,754.9 C735.4,754.9 735.9,757.6 736.6,761.0" fill="none" stroke="#1e1e1e" stroke-width="2.3" stroke-linecap="round"/>
<path d="M736.6,761.0 C737.3,764.4 738.0,770.9 738.6,775.3" fill="none" stroke="#1e1e1e" stroke-width="2.3" stroke-linecap="round"/>
<path d="M738.6,775.3 C739.2,779.7 739.7,785.0 740.2,787.5" fill="none" stroke="#1e1e1e" stroke-width="2.3" stroke-linecap="round"/>
<path d="M740.2,787.5 C740.7,790.0 741.1,790.2 741.7,790.0" fill="none" stroke="#1e1e1e" stroke-width="2.3" stroke-linecap="round"/>
<path d="M741.7,790.0 C742.3,789.8 743.1,787.4 743.7,786.4" fill="none" stroke="#1e1e1e" stroke-width="2.3" stroke-linecap="round"/>
<path d="M743.7,786.4 C744.4,785.4 745.0,783.9 745.6,783.9" fill="none" stroke="#1e1e1e" stroke-width="2.3" stroke-linecap="round"/>
<path d="M745.6,783.9 C746.2,783.9 746.7,785.9 747.3,786.4" fill="none" stroke="#1e1e1e" stroke-width="2.3" stroke-linecap="round"/>
<path d="M747.3,786.4 C747.9,786.9 748.6,787.5 749.3,787.0" fill="none" stroke="#444444" stroke-width="2.3" stroke-linecap="round"/>
<path d="M749.3,787.0 C750.0,786.5 750.8,784.3 751.4,783.4" fill="none" stroke="#1e1e1e" stroke-width="2.3" stroke-linecap="round"/>
<path d="M751.4,783.4 C752.0,782.5 752.6,781.7 752.9,781.4" fill="none" stroke="#1e1e1e" stroke-width="2.3" stroke-linecap="round"/>
<path d="M40.5,803.4 C44.0,803.4 54.9,803.4 61.2,803.4" fill="none" stroke="#5a5a5a" stroke-width="2.3" stroke-linecap="round"/>
<path d="M61.2,803.4 C67.5,803.4 73.1,803.4 78.3,803.4" fill="none" stroke="#5a5a5a" stroke-width="2.3" stroke-linecap="round"/>
<path d="M78.3,803.4 C83.5,803.4 89.2,802.8 92.2,803.5" fill="none" stroke="#595959" stroke-width="2.3" stroke-linecap="round"/>
<path d="M92.2,803.5 C95.2,804.2 95.2,805.6 96.2,807.9" fill="none" stroke="#1e1e1e" stroke-width="2.3" stroke-linecap="round"/>
<path d="M96.2,807.9 C97.2,810.2 97.8,814.7 98.5,817.3" fill="none" stroke="#1e1e1e" stroke-width="2.3" stroke-linecap="round"/>
<path d="M98.5,817.3 C99.2,819.9 99.7,823.6 100.4,823.6" fill="none" stroke="#1e1e1e" stroke-width="2.3" stroke-linecap="round"/>
<path d="M100.4,823.6 C101.1,823.6 101.8,818.7 102.5,817.3" fill="none" stroke="#1e1e1e" stroke-width="2.3" stroke-linecap="round"/>
<path d="M102.5,817.3 C103.2,815.9 104.0,815.0 104.8,815.0" fill="none" stroke="#1e1e1e" stroke-width="2.3" stroke-linecap="round"/>
<path d="M104.8,815.0 C105.6,815.0 106.5,816.5 107.2,817.3" fill="none" stroke="#202020" stroke-width="2.3" stroke-linecap="round"/>
<path d="M107.2,817.3 C107.9,818.1 108.2,819.7 108.8,819.7" fill="none" stroke="#1e1e1e" stroke-width="2.3" stroke-linecap="round"/>
<path d="M108.8,819.7 C109.4,819.7 110.4,817.8 111.1,817.3" fill="none" stroke="#1e1e1e" stroke-width="2.3" stroke-linecap="round"/>
<path d="M111.1,817.3 C111.8,816.8 112.2,815.7 112.7,816.5" fill="none" stroke="#373737" stroke-width="2.3" stroke-linecap="round"/>
<path d="M112.7,816.5 C113.2,817.3 113.9,820.1 114.3,822.0" fill="none" stroke="#1e1e1e" stroke-width="2.3" stroke-linecap="round"/>
<path d="M114.3,822.0 C114.7,823.9 114.7,828.1 115.1,827.6" fill="none" stroke="#1e1e1e" stroke-width="2.3" stroke-linecap="round"/>
<path d="M115.1,827.6 C115.5,827.1 116.0,821.5 116.7,818.9" fill="none" stroke="#1e1e1e" stroke-width="2.3" stroke-linecap="round"/>
<path d="M116.7,818.9 C117.4,816.3 117.8,813.6 119.0,811.8" fill="none" stroke="#1e1e1e" stroke-width="2.3" stroke-linecap="round"/>
<path d="M119.0,811.8 C120.2,810.0 121.3,808.9 123.7,807.9" fill="none" stroke="#252525" stroke-width="2.3" stroke-linecap="round"/>
<path d="M123.7,807.9 C126.1,806.9 126.3,806.5 133.2,806.0" fill="none" stroke="#4b4b4b" stroke-width="2.3" stroke-linecap="round"/>
<path d="M133.2,806.0 C140.1,805.5 143.0,805.2 165.0,804.7" fill="none" stroke="#575757" stroke-width="2.3" stroke-linecap="round"/>
<path d="M165.0,804.7 C187.0,804.2 232.5,803.2 265.0,802.8" fill="none" stroke="#595959" stroke-width="2.3" stroke-linecap="round"/>
<path d="M265.0,802.8 C297.5,802.4 337.1,802.4 360.0,802.1" fill="none" stroke="#595959" stroke-width="2.3" stroke-linecap="round"/>
<path d="M360.0,802.1 C382.9,801.9 390.8,801.5 402.2,801.3" fill="none" stroke="#595959" stroke-width="2.3" stroke-linecap="round"/>
<path d="M402.2,801.3 C413.6,801.1 421.9,800.5 428.5,800.7" fill="none" stroke="#585858" stroke-width="2.3" stroke-linecap="round"/>
<path d="M428.5,800.7 C435.1,800.9 434.2,801.9 441.6,802.3" fill="none" stroke="#515151" stroke-width="2.3" stroke-linecap="round"/>
<path d="M441.6,802.3 C449.0,802.6 462.8,802.5 473.1,802.8" fill="none" stroke="#595959" stroke-width="2.3" stroke-linecap="round"/>
<path d="M473.1,802.8 C483.4,803.1 496.7,803.9 503.3,803.9" fill="none" stroke="#575757" stroke-width="2.3" stroke-linecap="round"/>
<path d="M503.3,803.9 C509.9,803.9 506.4,803.1 512.5,802.8" fill="none" stroke="#515151" stroke-width="2.3" stroke-linecap="round"/>
<path d="M512.5,802.8 C518.6,802.5 531.5,802.4 540.0,802.3" fill="none" stroke="#595959" stroke-width="2.3" stroke-linecap="round"/>
<path d="M540.0,802.3 C548.5,802.2 556.8,802.1 563.6,802.3" fill="none" stroke="#5a5a5a" stroke-width="2.3" stroke-linecap="round"/>
<path d="M563.6,802.3 C570.4,802.5 577.0,802.8 580.9,803.4" fill="none" stroke="#555555" stroke-width="2.3" stroke-linecap="round"/>
<path d="M580.9,803.4 C584.8,804.0 585.4,804.5 587.2,805.7" fill="none" stroke="#3f3f3f" stroke-width="2.3" stroke-linecap="round"/>
<path d="M587.2,805.7 C589.1,806.9 590.7,809.2 592.0,810.5" fill="none" stroke="#1e1e1e" stroke-width="2.3" stroke-linecap="round"/>
<path d="M592.0,810.5 C593.3,811.8 593.7,812.1 595.0,813.4" fill="none" stroke="#1f1f1f" stroke-width="2.3" stroke-linecap="round"/>
<path d="M595.0,813.4 C596.3,814.7 598.4,815.9 599.7,818.1" fill="none" stroke="#1e1e1e" stroke-width="2.3" stroke-linecap="round"/>
<path d="M599.7,818.1 C601.0,820.3 602.0,823.5 602.9,826.8" fill="none" stroke="#1e1e1e" stroke-width="2.3" stroke-linecap="round"/>
<path d="M602.9,826.8 C603.8,830.1 604.2,836.5 604.8,837.8" fill="none" stroke="#1e1e1e" stroke-width="2.3" stroke-linecap="round"/>
<path d="M604.8,837.8 C605.4,839.1 605.8,835.3 606.3,834.6" fill="none" stroke="#1e1e1e" stroke-width="2.3" stroke-linecap="round"/>
<path d="M606.3,834.6 C606.8,833.9 606.9,832.9 607.6,833.4" fill="none" stroke="#212121" stroke-width="2.3" stroke-linecap="round"/>
<path d="M607.6,833.4 C608.3,833.9 609.7,835.2 610.7,837.8" fill="none" stroke="#1e1e1e" stroke-width="2.3" stroke-linecap="round"/>
<path d="M610.7,837.8 C611.8,840.4 612.9,844.1 613.9,848.8" fill="none" stroke="#1e1e1e" stroke-width="2.3" stroke-linecap="round"/>
<path d="M613.9,848.8 C614.9,853.5 616.1,860.3 617.0,866.1" fill="none" stroke="#1e1e1e" stroke-width="2.3" stroke-linecap="round"/>
<path d="M617.0,866.1 C617.9,871.9 618.7,878.5 619.4,883.5" fill="none" stroke="#1e1e1e" stroke-width="2.3" stroke-linecap="round"/>
<path d="M619.4,883.5 C620.1,888.5 620.5,893.4 621.0,896.1" fill="none" stroke="#1e1e1e" stroke-width="2.3" stroke-linecap="round"/>
<path d="M621.0,896.1 C621.5,898.8 621.6,900.2 622.1,899.5" fill="none" stroke="#1e1e1e" stroke-width="2.3" stroke-linecap="round"/>
<path d="M622.1,899.5 C622.6,898.8 623.5,892.4 624.1,892.1" fill="none" stroke="#1e1e1e" stroke-width="2.3" stroke-linecap="round"/>
<path d="M624.1,892.1 C624.7,891.8 625.2,895.8 625.7,897.6" fill="none" stroke="#1e1e1e" stroke-width="2.3" stroke-linecap="round"/>
<path d="M625.7,897.6 C626.2,899.4 626.6,903.6 627.3,903.1" fill="none" stroke="#1e1e1e" stroke-width="2.3" stroke-linecap="round"/>
<path d="M627.3,903.1 C627.9,902.6 628.7,899.6 629.6,894.5" fill="none" stroke="#1e1e1e" stroke-width="2.3" stroke-linecap="round"/>
<path d="M629.6,894.5 C630.5,889.4 631.9,878.2 632.8,872.4" fill="none" stroke="#1e1e1e" stroke-width="2.3" stroke-linecap="round"/>
<path d="M632.8,872.4 C633.7,866.6 634.6,862.7 635.2,859.8" fill="none" stroke="#1e1e1e" stroke-width="2.3" stroke-linecap="round"/>
<path d="M635.2,859.8 C635.9,856.9 636.1,855.1 636.7,855.1" fill="none" stroke="#1e1e1e" stroke-width="2.3" stroke-linecap="round"/>
<path d="M636.7,855.1 C637.3,855.1 638.3,858.0 638.8,859.8" fill="none" stroke="#1e1e1e" stroke-width="2.3" stroke-linecap="round"/>
<path d="M638.8,859.8 C639.3,861.6 639.3,864.6 639.9,866.1" fill="none" stroke="#1e1e1e" stroke-width="2.3" stroke-linecap="round"/>
<path d="M639.9,866.1 C640.5,867.6 641.3,865.5 642.2,868.5" fill="none" stroke="#1e1e1e" stroke-width="2.3" stroke-linecap="round"/>
<path d="M642.2,868.5 C643.1,871.5 644.3,883.9 645.1,884.3" fill="none" stroke="#1e1e1e" stroke-width="2.3" stroke-linecap="round"/>
<path d="M645.1,884.3 C645.9,884.7 646.2,876.3 647.0,870.9" fill="none" stroke="#1e1e1e" stroke-width="2.3" stroke-linecap="round"/>
<path d="M647.0,870.9 C647.8,865.5 649.1,857.8 650.1,852.0" fill="none" stroke="#1e1e1e" stroke-width="2.3" stroke-linecap="round"/>
<path d="M650.1,852.0 C651.1,846.2 652.1,840.9 653.3,836.2" fill="none" stroke="#1e1e1e" stroke-width="2.3" stroke-linecap="round"/>
<path d="M653.3,836.2 C654.5,831.5 655.9,826.5 657.2,823.6" fill="none" stroke="#1e1e1e" stroke-width="2.3" stroke-linecap="round"/>
<path d="M657.2,823.6 C658.5,820.7 660.1,819.4 661.1,818.6" fill="none" stroke="#1e1e1e" stroke-width="2.3" stroke-linecap="round"/>
<path d="M661.1,818.6 C662.1,817.8 662.8,817.8 663.5,818.9" fill="none" stroke="#505050" stroke-width="2.3" stroke-linecap="round"/>
<path d="M663.5,818.9 C664.2,820.0 665.0,822.1 665.6,825.2" fill="none" stroke="#1e1e1e" stroke-width="2.3" stroke-linecap="round"/>
<path d="M665.6,825.2 C666.2,828.4 666.8,835.3 667.4,837.8" fill="none" stroke="#1e1e1e" stroke-width="2.3" stroke-linecap="round"/>
<path d="M667.4,837.8 C668.0,840.3 668.3,840.2 669.0,840.2" fill="none" stroke="#1e1e1e" stroke-width="2.3" stroke-linecap="round"/>
<path d="M669.0,840.2 C669.7,840.2 670.7,838.4 671.4,837.8" fill="none" stroke="#1e1e1e" stroke-width="2.3" stroke-linecap="round"/>
<path d="M671.4,837.8 C672.1,837.2 672.5,836.1 673.4,836.5" fill="none" stroke="#2e2e2e" stroke-width="2.3" stroke-linecap="round"/>
<path d="M673.4,836.5 C674.3,836.9 675.6,841.0 676.6,840.2" fill="none" stroke="#1e1e1e" stroke-width="2.3" stroke-linecap="round"/>
<path d="M676.6,840.2 C677.6,839.4 678.3,834.0 679.3,831.5" fill="none" stroke="#1e1e1e" stroke-width="2.3" stroke-linecap="round"/>
<path d="M679.3,831.5 C680.3,829.0 681.4,825.4 682.4,824.9" fill="none" stroke="#1e1e1e" stroke-width="2.3" stroke-linecap="round"/>
<path d="M682.4,824.9 C683.4,824.4 684.3,825.6 685.1,828.3" fill="none" stroke="#1e1e1e" stroke-width="2.3" stroke-linecap="round"/>
<path d="M685.1,828.3 C685.9,831.0 686.4,837.5 687.1,840.9" fill="none" stroke="#1e1e1e" stroke-width="2.3" stroke-linecap="round"/>
<path d="M687.1,840.9 C687.8,844.3 688.3,847.8 689.2,848.8" fill="none" stroke="#1e1e1e" stroke-width="2.3" stroke-linecap="round"/>
<path d="M689.2,848.8 C690.1,849.8 691.2,847.7 692.6,847.2" fill="none" stroke="#383838" stroke-width="2.3" stroke-linecap="round"/>
<path d="M692.6,847.2 C694.0,846.7 696.0,846.4 697.4,845.7" fill="none" stroke="#434343" stroke-width="2.3" stroke-linecap="round"/>
<path d="M697.4,845.7 C698.8,845.0 700.2,842.7 701.3,842.8" fill="none" stroke="#292929" stroke-width="2.3" stroke-linecap="round"/>
<path d="M701.3,842.8 C702.3,842.9 703.1,845.0 703.7,846.5" fill="none" stroke="#1e1e1e" stroke-width="2.3" stroke-linecap="round"/>
<path d="M703.7,846.5 C704.4,848.0 704.4,850.3 705.2,852.0" fill="none" stroke="#1e1e1e" stroke-width="2.3" stroke-linecap="round"/>
<path d="M705.2,852.0 C706.0,853.7 707.3,854.2 708.4,856.7" fill="none" stroke="#1e1e1e" stroke-width="2.3" stroke-linecap="round"/>
<path d="M708.4,856.7 C709.5,859.2 710.8,862.9 711.8,867.1" fill="none" stroke="#1e1e1e" stroke-width="2.3" stroke-linecap="round"/>
<path d="M711.8,867.1 C712.8,871.3 713.8,877.3 714.6,882.0" fill="none" stroke="#1e1e1e" stroke-width="2.3" stroke-linecap="round"/>
<path d="M714.6,882.0 C715.5,886.7 716.2,891.4 716.9,895.4" fill="none" stroke="#1e1e1e" stroke-width="2.3" stroke-linecap="round"/>
<path d="M716.9,895.4 C717.5,899.4 718.0,903.4 718.5,905.7" fill="none" stroke="#1e1e1e" stroke-width="2.3" stroke-linecap="round"/>
<path d="M718.5,905.7 C719.0,908.0 719.3,909.4 719.7,909.4" fill="none" stroke="#1e1e1e" stroke-width="2.3" stroke-linecap="round"/>
<path d="M719.7,909.4 C720.1,909.4 720.6,908.7 721.1,905.7" fill="none" stroke="#1e1e1e" stroke-width="2.3" stroke-linecap="round"/>
<path d="M721.1,905.7 C721.6,902.7 722.2,895.3 722.8,891.5" fill="none" stroke="#1e1e1e" stroke-width="2.3" stroke-linecap="round"/>
<path d="M722.8,891.5 C723.3,887.7 723.8,885.4 724.4,882.8" fill="none" stroke="#1e1e1e" stroke-width="2.3" stroke-linecap="round"/>
<path d="M724.4,882.8 C725.0,880.2 725.9,877.3 726.4,875.7" fill="none" stroke="#1e1e1e" stroke-width="2.3" stroke-linecap="round"/>
<path d="M726.4,875.7 C726.9,874.1 727.2,873.2 727.6,873.2" fill="none" stroke="#1e1e1e" stroke-width="2.3" stroke-linecap="round"/>
<path d="M727.6,873.2 C728.0,873.2 728.2,872.9 728.7,875.7" fill="none" stroke="#1e1e1e" stroke-width="2.3" stroke-linecap="round"/>
<path d="M728.7,875.7 C729.2,878.5 729.8,885.2 730.3,889.9" fill="none" stroke="#1e1e1e" stroke-width="2.3" stroke-linecap="round"/>
<path d="M730.3,889.9 C730.8,894.6 731.1,899.9 731.5,904.1" fill="none" stroke="#1e1e1e" stroke-width="2.3" stroke-linecap="round"/>
<path d="M731.5,904.1 C731.9,908.3 732.4,913.0 732.7,915.1" fill="none" stroke="#1e1e1e" stroke-width="2.3" stroke-linecap="round"/>
<path d="M732.7,915.1 C733.0,917.2 733.2,916.8 733.5,916.7" fill="none" stroke="#1e1e1e" stroke-width="2.3" stroke-linecap="round"/>
<path d="M733.5,916.7 C733.8,916.6 734.1,915.8 734.6,914.3" fill="none" stroke="#1e1e1e" stroke-width="2.3" stroke-linecap="round"/>
<path d="M734.6,914.3 C735.1,912.8 735.7,909.3 736.2,908.0" fill="none" stroke="#1e1e1e" stroke-width="2.3" stroke-linecap="round"/>
<path d="M736.2,908.0 C736.7,906.7 737.1,906.1 737.6,906.5" fill="none" stroke="#1e1e1e" stroke-width="2.3" stroke-linecap="round"/>
<path d="M737.6,906.5 C738.1,906.9 738.6,909.0 739.0,910.4" fill="none" stroke="#1e1e1e" stroke-width="2.3" stroke-linecap="round"/>
<path d="M739.0,910.4 C739.4,911.8 739.8,914.0 740.2,915.1" fill="none" stroke="#1e1e1e" stroke-width="2.3" stroke-linecap="round"/>
<path d="M740.2,915.1 C740.6,916.2 740.8,916.7 741.3,916.7" fill="none" stroke="#1e1e1e" stroke-width="2.3" stroke-linecap="round"/>
<path d="M741.3,916.7 C741.8,916.7 742.4,915.9 742.9,915.1" fill="none" stroke="#1e1e1e" stroke-width="2.3" stroke-linecap="round"/>
<path d="M742.9,915.1 C743.4,914.3 743.7,913.2 744.1,912.0" fill="none" stroke="#1e1e1e" stroke-width="2.3" stroke-linecap="round"/>
<path d="M744.1,912.0 C744.5,910.8 745.1,908.6 745.3,907.9" fill="none" stroke="#1e1e1e" stroke-width="2.3" stroke-linecap="round"/>
<line x1="90.7" y1="546.5" x2="71.3" y2="571.8" stroke="#6a6a6a" stroke-width="2.0" stroke-dasharray="3 2.8"/>
<line x1="105.4" y1="546.6" x2="105.4" y2="592.8" stroke="#6a6a6a" stroke-width="2.0" stroke-dasharray="3 2.8"/>
<line x1="115.3" y1="549.4" x2="131.9" y2="584.9" stroke="#6a6a6a" stroke-width="2.0" stroke-dasharray="3 2.8"/>
<line x1="124.1" y1="541.4" x2="150" y2="567" stroke="#6a6a6a" stroke-width="2.0" stroke-dasharray="3 2.8"/>
<line x1="248.2" y1="553.1" x2="236.4" y2="586.5" stroke="#6a6a6a" stroke-width="2.0" stroke-dasharray="3 2.8"/>
<line x1="265.3" y1="549.1" x2="266.6" y2="582.6" stroke="#6a6a6a" stroke-width="2.0" stroke-dasharray="3 2.8"/>
<line x1="501.7" y1="539.9" x2="483.9" y2="575.6" stroke="#6a6a6a" stroke-width="2.0" stroke-dasharray="3 2.8"/>
<line x1="536.7" y1="542.6" x2="537.1" y2="580.6" stroke="#6a6a6a" stroke-width="2.0" stroke-dasharray="3 2.8"/>
<line x1="549.6" y1="534.7" x2="558.7" y2="559" stroke="#6a6a6a" stroke-width="2.0" stroke-dasharray="3 2.8"/>
<line x1="608.9" y1="569.1" x2="595.2" y2="603.4" stroke="#6a6a6a" stroke-width="2.0" stroke-dasharray="3 2.8"/>
<line x1="632.5" y1="644.6" x2="632.5" y2="666.7" stroke="#6a6a6a" stroke-width="2.0" stroke-dasharray="3 2.8"/>
<line x1="650.2" y1="622.5" x2="651.6" y2="644.5" stroke="#6a6a6a" stroke-width="2.0" stroke-dasharray="3 2.8"/>
<line x1="672.3" y1="580.1" x2="672.9" y2="607.9" stroke="#6a6a6a" stroke-width="2.0" stroke-dasharray="3 2.8"/>
<line x1="695.1" y1="577.8" x2="701.8" y2="622" stroke="#6a6a6a" stroke-width="2.0" stroke-dasharray="3 2.8"/>
<line x1="726.4" y1="633.1" x2="725.4" y2="658.6" stroke="#6a6a6a" stroke-width="2.0" stroke-dasharray="3 2.8"/>
<line x1="104.6" y1="692.6" x2="84.1" y2="718.6" stroke="#6a6a6a" stroke-width="2.0" stroke-dasharray="3 2.8"/>
<line x1="113.3" y1="681.6" x2="113.3" y2="728.8" stroke="#6a6a6a" stroke-width="2.0" stroke-dasharray="3 2.8"/>
<line x1="122.7" y1="687.1" x2="140" y2="724.1" stroke="#6a6a6a" stroke-width="2.0" stroke-dasharray="3 2.8"/>
<line x1="133.6" y1="672" x2="147.8" y2="699.3" stroke="#6a6a6a" stroke-width="2.0" stroke-dasharray="3 2.8"/>
<line x1="514" y1="667.5" x2="514" y2="710.4" stroke="#6a6a6a" stroke-width="2.0" stroke-dasharray="3 2.8"/>
<line x1="597.6" y1="686.6" x2="572.9" y2="705.8" stroke="#6a6a6a" stroke-width="2.0" stroke-dasharray="3 2.8"/>
<line x1="610.4" y1="713.1" x2="579.3" y2="739.6" stroke="#6a6a6a" stroke-width="2.0" stroke-dasharray="3 2.8"/>
<line x1="627.8" y1="781.7" x2="623.2" y2="806.4" stroke="#6a6a6a" stroke-width="2.0" stroke-dasharray="3 2.8"/>
<line x1="636" y1="785.4" x2="643.3" y2="792.7" stroke="#6a6a6a" stroke-width="2.0" stroke-dasharray="3 2.8"/>
<line x1="654.6" y1="765.3" x2="668.3" y2="781.3" stroke="#6a6a6a" stroke-width="2.0" stroke-dasharray="3 2.8"/>
<line x1="673.7" y1="719.1" x2="671.5" y2="752.7" stroke="#6a6a6a" stroke-width="2.0" stroke-dasharray="3 2.8"/>
<line x1="683.5" y1="719.1" x2="683.5" y2="739.3" stroke="#6a6a6a" stroke-width="2.0" stroke-dasharray="3 2.8"/>
<line x1="696.5" y1="722.7" x2="701.8" y2="759.2" stroke="#6a6a6a" stroke-width="2.0" stroke-dasharray="3 2.8"/>
<line x1="727.7" y1="781.3" x2="728.9" y2="801.9" stroke="#6a6a6a" stroke-width="2.0" stroke-dasharray="3 2.8"/>
<line x1="100.1" y1="824.4" x2="71" y2="843.3" stroke="#6a6a6a" stroke-width="2.0" stroke-dasharray="3 2.8"/>
<line x1="103.3" y1="825.2" x2="90.7" y2="860.6" stroke="#6a6a6a" stroke-width="2.0" stroke-dasharray="3 2.8"/>
<line x1="108" y1="826" x2="101.7" y2="879.5" stroke="#6a6a6a" stroke-width="2.0" stroke-dasharray="3 2.8"/>
<line x1="115.9" y1="829.1" x2="127.7" y2="859.1" stroke="#6a6a6a" stroke-width="2.0" stroke-dasharray="3 2.8"/>
<line x1="592" y1="814.4" x2="557.3" y2="837.2" stroke="#6a6a6a" stroke-width="2.0" stroke-dasharray="3 2.8"/>
<line x1="603.8" y1="840.4" x2="577" y2="861.7" stroke="#6a6a6a" stroke-width="2.0" stroke-dasharray="3 2.8"/>
<line x1="618.7" y1="900.2" x2="573.9" y2="908.1" stroke="#6a6a6a" stroke-width="2.0" stroke-dasharray="3 2.8"/>
<line x1="627.4" y1="903.4" x2="618" y2="916" stroke="#6a6a6a" stroke-width="2.0" stroke-dasharray="3 2.8"/>
<line x1="644.7" y1="888.4" x2="644.7" y2="903.4" stroke="#6a6a6a" stroke-width="2.0" stroke-dasharray="3 2.8"/>
<line x1="668.4" y1="843.4" x2="668.4" y2="864.7" stroke="#6a6a6a" stroke-width="2.0" stroke-dasharray="3 2.8"/>
<line x1="677.2" y1="842.6" x2="681.6" y2="886.7" stroke="#6a6a6a" stroke-width="2.0" stroke-dasharray="3 2.8"/>
<line x1="689.7" y1="851.4" x2="691.2" y2="866.1" stroke="#6a6a6a" stroke-width="2.0" stroke-dasharray="3 2.8"/>
<line x1="714.7" y1="911.7" x2="701.4" y2="919.1" stroke="#6a6a6a" stroke-width="2.0" stroke-dasharray="3 2.8"/>
<text transform="translate(58.61 593.19) scale(0.1024 0.1144)" font-family='"Liberation Sans", sans-serif' font-weight="normal" font-size="100" fill="#383838" stroke="#383838" stroke-width="0.6" vector-effect="non-scaling-stroke">3700</text>
<text transform="translate(92.41 611.68) scale(0.1017 0.1201)" font-family='"Liberation Sans", sans-serif' font-weight="normal" font-size="100" fill="#383838" stroke="#383838" stroke-width="0.6" vector-effect="non-scaling-stroke">3628</text>
<text transform="translate(125.22 605.69) scale(0.1010 0.1130)" font-family='"Liberation Sans", sans-serif' font-weight="normal" font-size="100" fill="#383838" stroke="#383838" stroke-width="0.6" vector-effect="non-scaling-stroke">3610</text>
<text transform="translate(150.21 581.48) scale(0.1031 0.1215)" font-family='"Liberation Sans", sans-serif' font-weight="normal" font-size="100" fill="#383838" stroke="#383838" stroke-width="0.6" vector-effect="non-scaling-stroke">3516</text>
<text transform="translate(217.11 597.29) scale(0.1025 0.1130)" font-family='"Liberation Sans", sans-serif' font-weight="normal" font-size="100" fill="#383838" stroke="#383838" stroke-width="0.6" vector-effect="non-scaling-stroke">3002</text>
<text transform="translate(259.20 597.29) scale(0.0998 0.1130)" font-family='"Liberation Sans", sans-serif' font-weight="normal" font-size="100" fill="#383838" stroke="#383838" stroke-width="0.6" vector-effect="non-scaling-stroke">2954</text>
<text transform="translate(464.54 586.89) scale(0.0996 0.1130)" font-family='"Liberation Sans", sans-serif' font-weight="normal" font-size="100" fill="#383838" stroke="#383838" stroke-width="0.6" vector-effect="non-scaling-stroke">1612</text>
<text transform="translate(529.41 596.90) scale(0.1034 0.1073)" font-family='"Liberation Sans", sans-serif' font-weight="normal" font-size="100" fill="#383838" stroke="#383838" stroke-width="0.6" vector-effect="non-scaling-stroke">1487</text>
<text transform="translate(547.15 575.20) scale(0.0991 0.1059)" font-family='"Liberation Sans", sans-serif' font-weight="normal" font-size="100" fill="#383838" stroke="#383838" stroke-width="0.6" vector-effect="non-scaling-stroke">1371</text>
<text transform="translate(577.92 622.79) scale(0.1021 0.1102)" font-family='"Liberation Sans", sans-serif' font-weight="normal" font-size="100" fill="#383838" stroke="#383838" stroke-width="0.6" vector-effect="non-scaling-stroke">1135</text>
<text transform="translate(621.52 681.68) scale(0.1021 0.1201)" font-family='"Liberation Sans", sans-serif' font-weight="normal" font-size="100" fill="#383838" stroke="#383838" stroke-width="0.6" vector-effect="non-scaling-stroke">1005</text>
<text transform="translate(642.83 659.59) scale(0.1011 0.1102)" font-family='"Liberation Sans", sans-serif' font-weight="normal" font-size="100" fill="#383838" stroke="#383838" stroke-width="0.6" vector-effect="non-scaling-stroke">901</text>
<text transform="translate(663.18 625.19) scale(0.1019 0.1088)" font-family='"Liberation Sans", sans-serif' font-weight="normal" font-size="100" fill="#383838" stroke="#383838" stroke-width="0.6" vector-effect="non-scaling-stroke">609</text>
<text transform="translate(694.50 640.19) scale(0.0970 0.1116)" font-family='"Liberation Sans", sans-serif' font-weight="normal" font-size="100" fill="#383838" stroke="#383838" stroke-width="0.6" vector-effect="non-scaling-stroke">752</text>
<text transform="translate(715.55 676.19) scale(0.1074 0.1158)" font-family='"Liberation Sans", sans-serif' font-weight="normal" font-size="100" fill="#383838" stroke="#383838" stroke-width="0.6" vector-effect="non-scaling-stroke">493</text>
<text transform="translate(68.82 729.99) scale(0.1001 0.1144)" font-family='"Liberation Sans", sans-serif' font-weight="normal" font-size="100" fill="#383838" stroke="#383838" stroke-width="0.6" vector-effect="non-scaling-stroke">3671</text>
<text transform="translate(102.12 746.49) scale(0.1006 0.1172)" font-family='"Liberation Sans", sans-serif' font-weight="normal" font-size="100" fill="#383838" stroke="#383838" stroke-width="0.6" vector-effect="non-scaling-stroke">3622</text>
<text transform="translate(132.10 735.49) scale(0.1038 0.1144)" font-family='"Liberation Sans", sans-serif' font-weight="normal" font-size="100" fill="#383838" stroke="#383838" stroke-width="0.6" vector-effect="non-scaling-stroke">3559</text>
<text transform="translate(145.92 709.80) scale(0.1003 0.1073)" font-family='"Liberation Sans", sans-serif' font-weight="normal" font-size="100" fill="#383838" stroke="#383838" stroke-width="0.6" vector-effect="non-scaling-stroke">3523</text>
<text transform="translate(502.92 725.49) scale(0.1020 0.1102)" font-family='"Liberation Sans", sans-serif' font-weight="normal" font-size="100" fill="#383838" stroke="#383838" stroke-width="0.6" vector-effect="non-scaling-stroke">1592</text>
<text transform="translate(551.43 720.00) scale(0.1012 0.1073)" font-family='"Liberation Sans", sans-serif' font-weight="normal" font-size="100" fill="#383838" stroke="#383838" stroke-width="0.6" vector-effect="non-scaling-stroke">1126</text>
<text transform="translate(556.03 757.10) scale(0.1011 0.1017)" font-family='"Liberation Sans", sans-serif' font-weight="normal" font-size="100" fill="#383838" stroke="#383838" stroke-width="0.6" vector-effect="non-scaling-stroke">1105</text>
<text transform="translate(609.83 820.49) scale(0.1010 0.1102)" font-family='"Liberation Sans", sans-serif' font-weight="normal" font-size="100" fill="#383838" stroke="#383838" stroke-width="0.6" vector-effect="non-scaling-stroke">1054</text>
<text transform="translate(643.83 808.59) scale(0.1006 0.1116)" font-family='"Liberation Sans", sans-serif' font-weight="normal" font-size="100" fill="#383838" stroke="#383838" stroke-width="0.6" vector-effect="non-scaling-stroke">1027</text>
<text transform="translate(669.31 792.39) scale(0.1050 0.1102)" font-family='"Liberation Sans", sans-serif' font-weight="normal" font-size="100" fill="#383838" stroke="#383838" stroke-width="0.6" vector-effect="non-scaling-stroke">902</text>
<text transform="translate(663.08 764.10) scale(0.1016 0.1031)" font-family='"Liberation Sans", sans-serif' font-weight="normal" font-size="100" fill="#383838" stroke="#383838" stroke-width="0.6" vector-effect="non-scaling-stroke">765</text>
<text transform="translate(675.17 753.40) scale(0.1032 0.1017)" font-family='"Liberation Sans", sans-serif' font-weight="normal" font-size="100" fill="#383838" stroke="#383838" stroke-width="0.6" vector-effect="non-scaling-stroke">729</text>
<text transform="translate(693.99 770.99) scale(0.1007 0.1102)" font-family='"Liberation Sans", sans-serif' font-weight="normal" font-size="100" fill="#383838" stroke="#383838" stroke-width="0.6" vector-effect="non-scaling-stroke">661</text>
<text transform="translate(719.70 821.90) scale(0.0994 0.1061)" font-family='"Liberation Sans", sans-serif' font-weight="normal" font-size="100" fill="#383838" stroke="#383838" stroke-width="0.6" vector-effect="non-scaling-stroke">511</text>
<text transform="translate(52.82 858.19) scale(0.1002 0.1116)" font-family='"Liberation Sans", sans-serif' font-weight="normal" font-size="100" fill="#383838" stroke="#383838" stroke-width="0.6" vector-effect="non-scaling-stroke">3692</text>
<text transform="translate(71.72 871.28) scale(0.1000 0.1186)" font-family='"Liberation Sans", sans-serif' font-weight="normal" font-size="100" fill="#383838" stroke="#383838" stroke-width="0.6" vector-effect="non-scaling-stroke">3669</text>
<text transform="translate(90.60 889.18) scale(0.1038 0.1229)" font-family='"Liberation Sans", sans-serif' font-weight="normal" font-size="100" fill="#383838" stroke="#383838" stroke-width="0.6" vector-effect="non-scaling-stroke">3649</text>
<text transform="translate(125.22 873.59) scale(0.1005 0.1130)" font-family='"Liberation Sans", sans-serif' font-weight="normal" font-size="100" fill="#383838" stroke="#383838" stroke-width="0.6" vector-effect="non-scaling-stroke">3619</text>
<text transform="translate(531.62 846.19) scale(0.1029 0.1088)" font-family='"Liberation Sans", sans-serif' font-weight="normal" font-size="100" fill="#383838" stroke="#383838" stroke-width="0.6" vector-effect="non-scaling-stroke">1164</text>
<text transform="translate(556.02 874.59) scale(0.1022 0.1130)" font-family='"Liberation Sans", sans-serif' font-weight="normal" font-size="100" fill="#383838" stroke="#383838" stroke-width="0.6" vector-effect="non-scaling-stroke">1116</text>
<text transform="translate(548.95 912.08) scale(0.0985 0.1201)" font-family='"Liberation Sans", sans-serif' font-weight="normal" font-size="100" fill="#383838" stroke="#383838" stroke-width="0.6" vector-effect="non-scaling-stroke">1029</text>
<text transform="translate(597.05 927.89) scale(0.0982 0.1172)" font-family='"Liberation Sans", sans-serif' font-weight="normal" font-size="100" fill="#383838" stroke="#383838" stroke-width="0.6" vector-effect="non-scaling-stroke">1002</text>
<text transform="translate(638.22 919.50) scale(0.1017 0.1031)" font-family='"Liberation Sans", sans-serif' font-weight="normal" font-size="100" fill="#383838" stroke="#383838" stroke-width="0.6" vector-effect="non-scaling-stroke">911</text>
<text transform="translate(659.88 880.78) scale(0.1020 0.1186)" font-family='"Liberation Sans", sans-serif' font-weight="normal" font-size="100" fill="#383838" stroke="#383838" stroke-width="0.6" vector-effect="non-scaling-stroke">791</text>
<text transform="translate(670.69 900.68) scale(0.0989 0.1186)" font-family='"Liberation Sans", sans-serif' font-weight="normal" font-size="100" fill="#383838" stroke="#383838" stroke-width="0.6" vector-effect="non-scaling-stroke">750</text>
<text transform="translate(686.58 882.29) scale(0.1020 0.1144)" font-family='"Liberation Sans", sans-serif' font-weight="normal" font-size="100" fill="#383838" stroke="#383838" stroke-width="0.6" vector-effect="non-scaling-stroke">681</text>
<text transform="translate(683.42 926.29) scale(0.0950 0.1102)" font-family='"Liberation Sans", sans-serif' font-weight="normal" font-size="100" fill="#383838" stroke="#383838" stroke-width="0.6" vector-effect="non-scaling-stroke">590</text>
<text transform="translate(719.21 46.17) scale(0.2143 0.2151)" font-family='"Liberation Serif", serif' font-weight="bold" font-size="100" fill="#000" stroke="#000" stroke-width="0.5" vector-effect="non-scaling-stroke">(a)</text>
<text transform="translate(696.58 104.21) scale(0.1571 0.1797)" font-family='"Liberation Serif", serif' font-weight="bold" font-size="100" fill="#000" stroke="#000" stroke-width="0.5" vector-effect="non-scaling-stroke">KDK</text>
<text transform="translate(664.44 250.98) scale(0.1641 0.1771)" font-family='"Liberation Serif", serif' font-weight="bold" font-size="100" fill="#000" stroke="#000" stroke-width="0.5" vector-effect="non-scaling-stroke">NK-DMSO</text>
<text transform="translate(708.35 391.05) scale(0.1568 0.1726)" font-family='"Liberation Serif", serif' font-weight="bold" font-size="100" fill="#000" stroke="#000" stroke-width="0.5" vector-effect="non-scaling-stroke">NK</text>
<text transform="translate(43.50 58.50) scale(0.1608 0.1789)" font-family='"Liberation Serif", serif' font-weight="bold" font-size="100" fill="#000" stroke="#000" stroke-width="0.5" vector-effect="non-scaling-stroke">6.24</text>
<text transform="translate(75.26 54.89) scale(0.1550 0.1682)" font-family='"Liberation Serif", serif' font-weight="normal" font-size="100" fill="#000" stroke="#000" stroke-width="0.3" vector-effect="non-scaling-stroke">°</text>
<text transform="translate(35.99 80.50) scale(0.1574 0.1774)" font-family='"Liberation Serif", serif' font-weight="bold" font-size="100" fill="#000" stroke="#000" stroke-width="0.5" vector-effect="non-scaling-stroke">1.43 nm</text>
<text transform="translate(57.69 207.49) scale(0.1685 0.1819)" font-family='"Liberation Serif", serif' font-weight="bold" font-size="100" fill="#000" stroke="#000" stroke-width="0.5" vector-effect="non-scaling-stroke">7.95</text>
<text transform="translate(90.27 202.49) scale(0.1517 0.1517)" font-family='"Liberation Serif", serif' font-weight="normal" font-size="100" fill="#000" stroke="#000" stroke-width="0.3" vector-effect="non-scaling-stroke">°</text>
<text transform="translate(49.97 229.50) scale(0.1604 0.1745)" font-family='"Liberation Serif", serif' font-weight="bold" font-size="100" fill="#000" stroke="#000" stroke-width="0.5" vector-effect="non-scaling-stroke">1.12 nm</text>
<text transform="translate(84.67 356.11) scale(0.1602 0.1730)" font-family='"Liberation Serif", serif' font-weight="bold" font-size="100" fill="#000" stroke="#000" stroke-width="0.5" vector-effect="non-scaling-stroke">12.26</text>
<text transform="translate(125.51 350.71) scale(0.1451 0.1385)" font-family='"Liberation Serif", serif' font-weight="normal" font-size="100" fill="#000" stroke="#000" stroke-width="0.3" vector-effect="non-scaling-stroke">°</text>
<text transform="translate(76.24 378.43) scale(0.1605 0.1575)" font-family='"Liberation Serif", serif' font-weight="bold" font-size="100" fill="#000" stroke="#000" stroke-width="0.5" vector-effect="non-scaling-stroke">0.72 nm</text>
<text transform="translate(215.04 338.55) scale(0.1461 0.1420)" font-family='"Liberation Serif", serif' font-weight="bold" font-size="100" fill="#000" stroke="#000" stroke-width="0.5" vector-effect="non-scaling-stroke">26.17</text>
<text transform="translate(250.15 334.39) scale(0.1352 0.1352)" font-family='"Liberation Serif", serif' font-weight="normal" font-size="100" fill="#000" stroke="#000" stroke-width="0.3" vector-effect="non-scaling-stroke">°</text>
<text transform="translate(208.02 356.06) scale(0.1401 0.1369)" font-family='"Liberation Serif", serif' font-weight="bold" font-size="100" fill="#000" stroke="#000" stroke-width="0.5" vector-effect="non-scaling-stroke">0.43 nm</text>
<text transform="translate(157.87 352.35) rotate(-90) scale(0.1809 0.1445)" font-family='"Liberation Serif", serif' font-weight="bold" font-size="100" fill="#000" stroke="#000" stroke-width="0.5" vector-effect="non-scaling-stroke">(001)</text>
<text transform="translate(271.20 367.55) rotate(-90) scale(0.1829 0.1434)" font-family='"Liberation Serif", serif' font-weight="bold" font-size="100" fill="#000" stroke="#000" stroke-width="0.5" vector-effect="non-scaling-stroke">(002)</text>
<text transform="translate(18.78 295.93) rotate(-90) scale(0.2313 0.1979)" font-family='"Liberation Serif", serif' font-weight="bold" font-size="100" fill="#000" stroke="#000" stroke-width="0.5" vector-effect="non-scaling-stroke">Intensity (a.u)</text>
<text transform="translate(49.90 452.12) scale(0.1958 0.2327)" font-family='"Liberation Serif", serif' font-weight="bold" font-size="100" fill="#000" stroke="#000" stroke-width="0.5" vector-effect="non-scaling-stroke">0</text>
<text transform="translate(129.59 452.12) scale(0.2075 0.2327)" font-family='"Liberation Serif", serif' font-weight="bold" font-size="100" fill="#000" stroke="#000" stroke-width="0.5" vector-effect="non-scaling-stroke">10</text>
<text transform="translate(215.79 452.12) scale(0.2044 0.2327)" font-family='"Liberation Serif", serif' font-weight="bold" font-size="100" fill="#000" stroke="#000" stroke-width="0.5" vector-effect="non-scaling-stroke">20</text>
<text transform="translate(301.87 452.12) scale(0.2066 0.2327)" font-family='"Liberation Serif", serif' font-weight="bold" font-size="100" fill="#000" stroke="#000" stroke-width="0.5" vector-effect="non-scaling-stroke">30</text>
<text transform="translate(386.98 452.12) scale(0.1983 0.2327)" font-family='"Liberation Serif", serif' font-weight="bold" font-size="100" fill="#000" stroke="#000" stroke-width="0.5" vector-effect="non-scaling-stroke">40</text>
<text transform="translate(473.21 452.12) scale(0.2094 0.2327)" font-family='"Liberation Serif", serif' font-weight="bold" font-size="100" fill="#000" stroke="#000" stroke-width="0.5" vector-effect="non-scaling-stroke">50</text>
<text transform="translate(559.33 452.12) scale(0.2113 0.2327)" font-family='"Liberation Serif", serif' font-weight="bold" font-size="100" fill="#000" stroke="#000" stroke-width="0.5" vector-effect="non-scaling-stroke">60</text>
<text transform="translate(643.66 452.12) scale(0.2078 0.2327)" font-family='"Liberation Serif", serif' font-weight="bold" font-size="100" fill="#000" stroke="#000" stroke-width="0.5" vector-effect="non-scaling-stroke">70</text>
<text transform="translate(730.44 452.12) scale(0.2143 0.2327)" font-family='"Liberation Serif", serif' font-weight="bold" font-size="100" fill="#000" stroke="#000" stroke-width="0.5" vector-effect="non-scaling-stroke">80</text>
<text transform="translate(372.88 478.99) scale(0.2065 0.2237)" font-family='"Liberation Serif", serif' font-weight="bold" font-size="100" fill="#000" stroke="#000" stroke-width="0.5" vector-effect="non-scaling-stroke">2θ (°)</text>
<text transform="translate(729.67 524.02) scale(0.2010 0.1941)" font-family='"Liberation Serif", serif' font-weight="bold" font-size="100" fill="#000" stroke="#000" stroke-width="0.5" vector-effect="non-scaling-stroke">(b)</text>
<text transform="translate(43.60 529.22) scale(0.1447 0.1538)" font-family='"Liberation Serif", serif' font-weight="bold" font-size="100" fill="#000" stroke="#000" stroke-width="0.5" vector-effect="non-scaling-stroke">KDK</text>
<text transform="translate(40.16 658.99) scale(0.1528 0.1593)" font-family='"Liberation Serif", serif' font-weight="bold" font-size="100" fill="#000" stroke="#000" stroke-width="0.5" vector-effect="non-scaling-stroke">NK-DMSO</text>
<text transform="translate(48.78 796.85) scale(0.1432 0.1634)" font-family='"Liberation Serif", serif' font-weight="bold" font-size="100" fill="#000" stroke="#000" stroke-width="0.5" vector-effect="non-scaling-stroke">NK</text>
<text transform="translate(16.19 779.56) rotate(-90) scale(0.2005 0.1952)" font-family='"Liberation Serif", serif' font-weight="bold" font-size="100" fill="#000" stroke="#000" stroke-width="0.5" vector-effect="non-scaling-stroke">Transmittance (a.u)</text>
<text transform="translate(114.31 952.75) scale(0.1959 0.2060)" font-family='"Liberation Serif", serif' font-weight="bold" font-size="100" fill="#000" stroke="#000" stroke-width="0.5" vector-effect="non-scaling-stroke">3500</text>
<text transform="translate(217.91 952.75) scale(0.1980 0.2060)" font-family='"Liberation Serif", serif' font-weight="bold" font-size="100" fill="#000" stroke="#000" stroke-width="0.5" vector-effect="non-scaling-stroke">3000</text>
<text transform="translate(314.63 952.75) scale(0.1943 0.2060)" font-family='"Liberation Serif", serif' font-weight="bold" font-size="100" fill="#000" stroke="#000" stroke-width="0.5" vector-effect="non-scaling-stroke">2500</text>
<text transform="translate(413.83 952.75) scale(0.1964 0.2060)" font-family='"Liberation Serif", serif' font-weight="bold" font-size="100" fill="#000" stroke="#000" stroke-width="0.5" vector-effect="non-scaling-stroke">2000</text>
<text transform="translate(515.53 952.75) scale(0.1897 0.2060)" font-family='"Liberation Serif", serif' font-weight="bold" font-size="100" fill="#000" stroke="#000" stroke-width="0.5" vector-effect="non-scaling-stroke">1500</text>
<text transform="translate(612.71 952.75) scale(0.1924 0.2060)" font-family='"Liberation Serif", serif' font-weight="bold" font-size="100" fill="#000" stroke="#000" stroke-width="0.5" vector-effect="non-scaling-stroke">1000</text>
<text transform="translate(717.18 952.75) scale(0.1934 0.2060)" font-family='"Liberation Serif", serif' font-weight="bold" font-size="100" fill="#000" stroke="#000" stroke-width="0.5" vector-effect="non-scaling-stroke">500</text>
<text transform="translate(349.18 977.13) scale(0.1896 0.1957)" font-family='"Liberation Serif", serif' font-weight="bold" font-size="100" fill="#000" stroke="#000" stroke-width="0.5" vector-effect="non-scaling-stroke">Wavelength (cm</text>
<rect x="481.8" y="967.6" width="1.9" height="1.3" fill="#000"/>
<text transform="translate(485.08 968.55) scale(0.1331 0.0909)" font-family='"Liberation Serif", serif' font-weight="bold" font-size="100" fill="#000" stroke="#000" stroke-width="0.5" vector-effect="non-scaling-stroke">1</text>
<text transform="translate(492.02 976.96) scale(0.1947 0.1875)" font-family='"Liberation Serif", serif' font-weight="bold" font-size="100" fill="#000" stroke="#000" stroke-width="0.5" vector-effect="non-scaling-stroke">)</text>
</svg>
</body></html>
